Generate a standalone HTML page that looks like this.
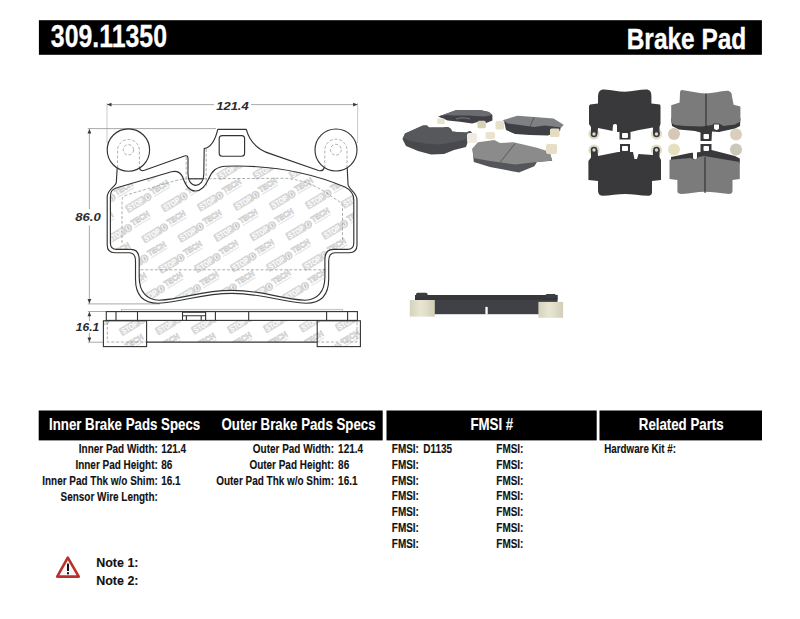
<!DOCTYPE html>
<html><head><meta charset="utf-8"><style>
html,body{margin:0;padding:0;background:#fff;}
body{width:800px;height:619px;overflow:hidden;position:relative;}
svg{position:absolute;left:0;top:0;font-family:"Liberation Sans", sans-serif;}
</style></head><body>
<svg width="800" height="619" viewBox="0 0 800 619">
<rect x="38.9" y="20.2" width="723" height="34.6" fill="#000"/><text transform="translate(50.8,47.1) scale(0.79,1)" text-anchor="start" font-size="31.5" font-weight="bold" font-style="normal" fill="#fff" stroke="#fff" stroke-width="0.3">309.11350</text><text transform="translate(746.3,48.6) scale(0.815,1)" text-anchor="end" font-size="30" font-weight="bold" font-style="normal" fill="#fff" stroke="#fff" stroke-width="0.35">Brake Pad</text><g stroke="#a0a0a0" stroke-width="0.9" fill="none"><line x1="107" y1="103" x2="107" y2="143" stroke="#c4c4c4"/><line x1="357.6" y1="103" x2="357.6" y2="143" stroke="#c4c4c4"/><line x1="107" y1="104.6" x2="214" y2="104.6"/><line x1="251" y1="104.6" x2="357.6" y2="104.6"/><line x1="87.8" y1="128.6" x2="216" y2="128.6"/><line x1="89.4" y1="128.6" x2="89.4" y2="209"/><line x1="89.4" y1="225.5" x2="89.4" y2="303.9"/><line x1="87.8" y1="303.9" x2="160" y2="303.9"/><line x1="87.8" y1="311.5" x2="106" y2="311.5"/><line x1="87.8" y1="342.2" x2="103" y2="342.2"/><line x1="89.4" y1="311.5" x2="89.4" y2="321"/><line x1="89.4" y1="333" x2="89.4" y2="342.2"/></g><polygon points="107,104.6 111.5,102.69999999999999 111.5,106.5" fill="#3a3a3a"/><polygon points="357.6,104.6 353.1,102.69999999999999 353.1,106.5" fill="#3a3a3a"/><polygon points="89.4,129 87.5,133.5 91.30000000000001,133.5" fill="#3a3a3a"/><polygon points="89.4,303.6 87.5,299.1 91.30000000000001,299.1" fill="#3a3a3a"/><polygon points="89.4,311.8 87.5,316.3 91.30000000000001,316.3" fill="#3a3a3a"/><polygon points="89.4,341.9 87.5,337.4 91.30000000000001,337.4" fill="#3a3a3a"/><text x="216.2" y="109.6" font-size="10.7" font-weight="bold" font-style="italic" fill="#2a2a2a" textLength="32.5" lengthAdjust="spacingAndGlyphs">121.4</text><text x="75.2" y="220.7" font-size="10.7" font-weight="bold" font-style="italic" fill="#2a2a2a" textLength="25.5" lengthAdjust="spacingAndGlyphs">86.0</text><text x="75.8" y="330.8" font-size="10.7" font-weight="bold" font-style="italic" fill="#2a2a2a" textLength="23.5" lengthAdjust="spacingAndGlyphs">16.1</text><defs><clipPath id="fr"><path d="M110.4,243 L110.4,197 C110.4,191.5 112,189.6 116,188 L171.5,171.8 C176.5,170.6 180,172 182.5,176.5 C185,184.5 189,191 195.5,191 C202,191 206,185 208.8,178.5 C212,171 216,166.6 226,166.2 Q290,164 345,187 C351,190 353.8,194 353.8,200 L353.8,243 C353.8,247.5 352,249.4 347.5,249.4 L333,249.4 C327,249.4 324.9,253 324.9,260 L324.9,277 C324.9,292 317,300 305,300.2 C279,299 264,290.3 232,290.3 C200,290.3 185,299 159,300.2 C147,300 139.2,292 139.2,277 L139.2,260 C139.2,253 137,249.4 131,249.4 L116.5,249.4 C112,249.4 110.4,247.5 110.4,243 Z"/></clipPath><clipPath id="sv"><path d="M103.4,320 L360.4,320 L360.4,346.4 L317.2,346.4 L317.2,342 L146.6,342 L146.6,346.4 L103.4,346.4 Z"/></clipPath></defs><g clip-path="url(#fr)"><g transform="translate(105.5,320.8) rotate(-31)"><rect x="-24.5" y="-4.2" width="21" height="8.4" rx="1.2" fill="#d8d8d8"/><text x="-14" y="2.9" text-anchor="middle" font-size="8" font-weight="bold" fill="#fff" textLength="17.5" lengthAdjust="spacingAndGlyphs">STOP</text><circle cx="0" cy="0" r="4.2" fill="#d4d4d4"/><ellipse cx="0" cy="0" rx="2" ry="3" fill="#f6f6f6"/><ellipse cx="0.2" cy="0" rx="0.9" ry="2.2" fill="#c4c4c4"/><text x="5.5" y="0.6" font-size="8" font-weight="bold" fill="#fbfbfb" stroke="#cbcbcb" stroke-width="0.7" textLength="20" lengthAdjust="spacingAndGlyphs">TECH</text><rect x="6" y="2.2" width="18.5" height="1.3" fill="#e6e6e6"/></g><g transform="translate(122.0,351.2) rotate(-31)"><rect x="-24.5" y="-4.2" width="21" height="8.4" rx="1.2" fill="#d8d8d8"/><text x="-14" y="2.9" text-anchor="middle" font-size="8" font-weight="bold" fill="#fff" textLength="17.5" lengthAdjust="spacingAndGlyphs">STOP</text><circle cx="0" cy="0" r="4.2" fill="#d4d4d4"/><ellipse cx="0" cy="0" rx="2" ry="3" fill="#f6f6f6"/><ellipse cx="0.2" cy="0" rx="0.9" ry="2.2" fill="#c4c4c4"/><text x="5.5" y="0.6" font-size="8" font-weight="bold" fill="#fbfbfb" stroke="#cbcbcb" stroke-width="0.7" textLength="20" lengthAdjust="spacingAndGlyphs">TECH</text><rect x="6" y="2.2" width="18.5" height="1.3" fill="#e6e6e6"/></g><g transform="translate(92.0,228.9) rotate(-31)"><rect x="-24.5" y="-4.2" width="21" height="8.4" rx="1.2" fill="#d8d8d8"/><text x="-14" y="2.9" text-anchor="middle" font-size="8" font-weight="bold" fill="#fff" textLength="17.5" lengthAdjust="spacingAndGlyphs">STOP</text><circle cx="0" cy="0" r="4.2" fill="#d4d4d4"/><ellipse cx="0" cy="0" rx="2" ry="3" fill="#f6f6f6"/><ellipse cx="0.2" cy="0" rx="0.9" ry="2.2" fill="#c4c4c4"/><text x="5.5" y="0.6" font-size="8" font-weight="bold" fill="#fbfbfb" stroke="#cbcbcb" stroke-width="0.7" textLength="20" lengthAdjust="spacingAndGlyphs">TECH</text><rect x="6" y="2.2" width="18.5" height="1.3" fill="#e6e6e6"/></g><g transform="translate(108.5,259.3) rotate(-31)"><rect x="-24.5" y="-4.2" width="21" height="8.4" rx="1.2" fill="#d8d8d8"/><text x="-14" y="2.9" text-anchor="middle" font-size="8" font-weight="bold" fill="#fff" textLength="17.5" lengthAdjust="spacingAndGlyphs">STOP</text><circle cx="0" cy="0" r="4.2" fill="#d4d4d4"/><ellipse cx="0" cy="0" rx="2" ry="3" fill="#f6f6f6"/><ellipse cx="0.2" cy="0" rx="0.9" ry="2.2" fill="#c4c4c4"/><text x="5.5" y="0.6" font-size="8" font-weight="bold" fill="#fbfbfb" stroke="#cbcbcb" stroke-width="0.7" textLength="20" lengthAdjust="spacingAndGlyphs">TECH</text><rect x="6" y="2.2" width="18.5" height="1.3" fill="#e6e6e6"/></g><g transform="translate(125.0,289.7) rotate(-31)"><rect x="-24.5" y="-4.2" width="21" height="8.4" rx="1.2" fill="#d8d8d8"/><text x="-14" y="2.9" text-anchor="middle" font-size="8" font-weight="bold" fill="#fff" textLength="17.5" lengthAdjust="spacingAndGlyphs">STOP</text><circle cx="0" cy="0" r="4.2" fill="#d4d4d4"/><ellipse cx="0" cy="0" rx="2" ry="3" fill="#f6f6f6"/><ellipse cx="0.2" cy="0" rx="0.9" ry="2.2" fill="#c4c4c4"/><text x="5.5" y="0.6" font-size="8" font-weight="bold" fill="#fbfbfb" stroke="#cbcbcb" stroke-width="0.7" textLength="20" lengthAdjust="spacingAndGlyphs">TECH</text><rect x="6" y="2.2" width="18.5" height="1.3" fill="#e6e6e6"/></g><g transform="translate(141.5,320.1) rotate(-31)"><rect x="-24.5" y="-4.2" width="21" height="8.4" rx="1.2" fill="#d8d8d8"/><text x="-14" y="2.9" text-anchor="middle" font-size="8" font-weight="bold" fill="#fff" textLength="17.5" lengthAdjust="spacingAndGlyphs">STOP</text><circle cx="0" cy="0" r="4.2" fill="#d4d4d4"/><ellipse cx="0" cy="0" rx="2" ry="3" fill="#f6f6f6"/><ellipse cx="0.2" cy="0" rx="0.9" ry="2.2" fill="#c4c4c4"/><text x="5.5" y="0.6" font-size="8" font-weight="bold" fill="#fbfbfb" stroke="#cbcbcb" stroke-width="0.7" textLength="20" lengthAdjust="spacingAndGlyphs">TECH</text><rect x="6" y="2.2" width="18.5" height="1.3" fill="#e6e6e6"/></g><g transform="translate(158.0,350.5) rotate(-31)"><rect x="-24.5" y="-4.2" width="21" height="8.4" rx="1.2" fill="#d8d8d8"/><text x="-14" y="2.9" text-anchor="middle" font-size="8" font-weight="bold" fill="#fff" textLength="17.5" lengthAdjust="spacingAndGlyphs">STOP</text><circle cx="0" cy="0" r="4.2" fill="#d4d4d4"/><ellipse cx="0" cy="0" rx="2" ry="3" fill="#f6f6f6"/><ellipse cx="0.2" cy="0" rx="0.9" ry="2.2" fill="#c4c4c4"/><text x="5.5" y="0.6" font-size="8" font-weight="bold" fill="#fbfbfb" stroke="#cbcbcb" stroke-width="0.7" textLength="20" lengthAdjust="spacingAndGlyphs">TECH</text><rect x="6" y="2.2" width="18.5" height="1.3" fill="#e6e6e6"/></g><g transform="translate(95.0,167.4) rotate(-31)"><rect x="-24.5" y="-4.2" width="21" height="8.4" rx="1.2" fill="#d8d8d8"/><text x="-14" y="2.9" text-anchor="middle" font-size="8" font-weight="bold" fill="#fff" textLength="17.5" lengthAdjust="spacingAndGlyphs">STOP</text><circle cx="0" cy="0" r="4.2" fill="#d4d4d4"/><ellipse cx="0" cy="0" rx="2" ry="3" fill="#f6f6f6"/><ellipse cx="0.2" cy="0" rx="0.9" ry="2.2" fill="#c4c4c4"/><text x="5.5" y="0.6" font-size="8" font-weight="bold" fill="#fbfbfb" stroke="#cbcbcb" stroke-width="0.7" textLength="20" lengthAdjust="spacingAndGlyphs">TECH</text><rect x="6" y="2.2" width="18.5" height="1.3" fill="#e6e6e6"/></g><g transform="translate(111.5,197.8) rotate(-31)"><rect x="-24.5" y="-4.2" width="21" height="8.4" rx="1.2" fill="#d8d8d8"/><text x="-14" y="2.9" text-anchor="middle" font-size="8" font-weight="bold" fill="#fff" textLength="17.5" lengthAdjust="spacingAndGlyphs">STOP</text><circle cx="0" cy="0" r="4.2" fill="#d4d4d4"/><ellipse cx="0" cy="0" rx="2" ry="3" fill="#f6f6f6"/><ellipse cx="0.2" cy="0" rx="0.9" ry="2.2" fill="#c4c4c4"/><text x="5.5" y="0.6" font-size="8" font-weight="bold" fill="#fbfbfb" stroke="#cbcbcb" stroke-width="0.7" textLength="20" lengthAdjust="spacingAndGlyphs">TECH</text><rect x="6" y="2.2" width="18.5" height="1.3" fill="#e6e6e6"/></g><g transform="translate(128.0,228.2) rotate(-31)"><rect x="-24.5" y="-4.2" width="21" height="8.4" rx="1.2" fill="#d8d8d8"/><text x="-14" y="2.9" text-anchor="middle" font-size="8" font-weight="bold" fill="#fff" textLength="17.5" lengthAdjust="spacingAndGlyphs">STOP</text><circle cx="0" cy="0" r="4.2" fill="#d4d4d4"/><ellipse cx="0" cy="0" rx="2" ry="3" fill="#f6f6f6"/><ellipse cx="0.2" cy="0" rx="0.9" ry="2.2" fill="#c4c4c4"/><text x="5.5" y="0.6" font-size="8" font-weight="bold" fill="#fbfbfb" stroke="#cbcbcb" stroke-width="0.7" textLength="20" lengthAdjust="spacingAndGlyphs">TECH</text><rect x="6" y="2.2" width="18.5" height="1.3" fill="#e6e6e6"/></g><g transform="translate(144.5,258.6) rotate(-31)"><rect x="-24.5" y="-4.2" width="21" height="8.4" rx="1.2" fill="#d8d8d8"/><text x="-14" y="2.9" text-anchor="middle" font-size="8" font-weight="bold" fill="#fff" textLength="17.5" lengthAdjust="spacingAndGlyphs">STOP</text><circle cx="0" cy="0" r="4.2" fill="#d4d4d4"/><ellipse cx="0" cy="0" rx="2" ry="3" fill="#f6f6f6"/><ellipse cx="0.2" cy="0" rx="0.9" ry="2.2" fill="#c4c4c4"/><text x="5.5" y="0.6" font-size="8" font-weight="bold" fill="#fbfbfb" stroke="#cbcbcb" stroke-width="0.7" textLength="20" lengthAdjust="spacingAndGlyphs">TECH</text><rect x="6" y="2.2" width="18.5" height="1.3" fill="#e6e6e6"/></g><g transform="translate(161.0,289.0) rotate(-31)"><rect x="-24.5" y="-4.2" width="21" height="8.4" rx="1.2" fill="#d8d8d8"/><text x="-14" y="2.9" text-anchor="middle" font-size="8" font-weight="bold" fill="#fff" textLength="17.5" lengthAdjust="spacingAndGlyphs">STOP</text><circle cx="0" cy="0" r="4.2" fill="#d4d4d4"/><ellipse cx="0" cy="0" rx="2" ry="3" fill="#f6f6f6"/><ellipse cx="0.2" cy="0" rx="0.9" ry="2.2" fill="#c4c4c4"/><text x="5.5" y="0.6" font-size="8" font-weight="bold" fill="#fbfbfb" stroke="#cbcbcb" stroke-width="0.7" textLength="20" lengthAdjust="spacingAndGlyphs">TECH</text><rect x="6" y="2.2" width="18.5" height="1.3" fill="#e6e6e6"/></g><g transform="translate(177.5,319.4) rotate(-31)"><rect x="-24.5" y="-4.2" width="21" height="8.4" rx="1.2" fill="#d8d8d8"/><text x="-14" y="2.9" text-anchor="middle" font-size="8" font-weight="bold" fill="#fff" textLength="17.5" lengthAdjust="spacingAndGlyphs">STOP</text><circle cx="0" cy="0" r="4.2" fill="#d4d4d4"/><ellipse cx="0" cy="0" rx="2" ry="3" fill="#f6f6f6"/><ellipse cx="0.2" cy="0" rx="0.9" ry="2.2" fill="#c4c4c4"/><text x="5.5" y="0.6" font-size="8" font-weight="bold" fill="#fbfbfb" stroke="#cbcbcb" stroke-width="0.7" textLength="20" lengthAdjust="spacingAndGlyphs">TECH</text><rect x="6" y="2.2" width="18.5" height="1.3" fill="#e6e6e6"/></g><g transform="translate(194.0,349.8) rotate(-31)"><rect x="-24.5" y="-4.2" width="21" height="8.4" rx="1.2" fill="#d8d8d8"/><text x="-14" y="2.9" text-anchor="middle" font-size="8" font-weight="bold" fill="#fff" textLength="17.5" lengthAdjust="spacingAndGlyphs">STOP</text><circle cx="0" cy="0" r="4.2" fill="#d4d4d4"/><ellipse cx="0" cy="0" rx="2" ry="3" fill="#f6f6f6"/><ellipse cx="0.2" cy="0" rx="0.9" ry="2.2" fill="#c4c4c4"/><text x="5.5" y="0.6" font-size="8" font-weight="bold" fill="#fbfbfb" stroke="#cbcbcb" stroke-width="0.7" textLength="20" lengthAdjust="spacingAndGlyphs">TECH</text><rect x="6" y="2.2" width="18.5" height="1.3" fill="#e6e6e6"/></g><g transform="translate(131.0,166.7) rotate(-31)"><rect x="-24.5" y="-4.2" width="21" height="8.4" rx="1.2" fill="#d8d8d8"/><text x="-14" y="2.9" text-anchor="middle" font-size="8" font-weight="bold" fill="#fff" textLength="17.5" lengthAdjust="spacingAndGlyphs">STOP</text><circle cx="0" cy="0" r="4.2" fill="#d4d4d4"/><ellipse cx="0" cy="0" rx="2" ry="3" fill="#f6f6f6"/><ellipse cx="0.2" cy="0" rx="0.9" ry="2.2" fill="#c4c4c4"/><text x="5.5" y="0.6" font-size="8" font-weight="bold" fill="#fbfbfb" stroke="#cbcbcb" stroke-width="0.7" textLength="20" lengthAdjust="spacingAndGlyphs">TECH</text><rect x="6" y="2.2" width="18.5" height="1.3" fill="#e6e6e6"/></g><g transform="translate(147.5,197.1) rotate(-31)"><rect x="-24.5" y="-4.2" width="21" height="8.4" rx="1.2" fill="#d8d8d8"/><text x="-14" y="2.9" text-anchor="middle" font-size="8" font-weight="bold" fill="#fff" textLength="17.5" lengthAdjust="spacingAndGlyphs">STOP</text><circle cx="0" cy="0" r="4.2" fill="#d4d4d4"/><ellipse cx="0" cy="0" rx="2" ry="3" fill="#f6f6f6"/><ellipse cx="0.2" cy="0" rx="0.9" ry="2.2" fill="#c4c4c4"/><text x="5.5" y="0.6" font-size="8" font-weight="bold" fill="#fbfbfb" stroke="#cbcbcb" stroke-width="0.7" textLength="20" lengthAdjust="spacingAndGlyphs">TECH</text><rect x="6" y="2.2" width="18.5" height="1.3" fill="#e6e6e6"/></g><g transform="translate(164.0,227.5) rotate(-31)"><rect x="-24.5" y="-4.2" width="21" height="8.4" rx="1.2" fill="#d8d8d8"/><text x="-14" y="2.9" text-anchor="middle" font-size="8" font-weight="bold" fill="#fff" textLength="17.5" lengthAdjust="spacingAndGlyphs">STOP</text><circle cx="0" cy="0" r="4.2" fill="#d4d4d4"/><ellipse cx="0" cy="0" rx="2" ry="3" fill="#f6f6f6"/><ellipse cx="0.2" cy="0" rx="0.9" ry="2.2" fill="#c4c4c4"/><text x="5.5" y="0.6" font-size="8" font-weight="bold" fill="#fbfbfb" stroke="#cbcbcb" stroke-width="0.7" textLength="20" lengthAdjust="spacingAndGlyphs">TECH</text><rect x="6" y="2.2" width="18.5" height="1.3" fill="#e6e6e6"/></g><g transform="translate(180.5,257.9) rotate(-31)"><rect x="-24.5" y="-4.2" width="21" height="8.4" rx="1.2" fill="#d8d8d8"/><text x="-14" y="2.9" text-anchor="middle" font-size="8" font-weight="bold" fill="#fff" textLength="17.5" lengthAdjust="spacingAndGlyphs">STOP</text><circle cx="0" cy="0" r="4.2" fill="#d4d4d4"/><ellipse cx="0" cy="0" rx="2" ry="3" fill="#f6f6f6"/><ellipse cx="0.2" cy="0" rx="0.9" ry="2.2" fill="#c4c4c4"/><text x="5.5" y="0.6" font-size="8" font-weight="bold" fill="#fbfbfb" stroke="#cbcbcb" stroke-width="0.7" textLength="20" lengthAdjust="spacingAndGlyphs">TECH</text><rect x="6" y="2.2" width="18.5" height="1.3" fill="#e6e6e6"/></g><g transform="translate(197.0,288.3) rotate(-31)"><rect x="-24.5" y="-4.2" width="21" height="8.4" rx="1.2" fill="#d8d8d8"/><text x="-14" y="2.9" text-anchor="middle" font-size="8" font-weight="bold" fill="#fff" textLength="17.5" lengthAdjust="spacingAndGlyphs">STOP</text><circle cx="0" cy="0" r="4.2" fill="#d4d4d4"/><ellipse cx="0" cy="0" rx="2" ry="3" fill="#f6f6f6"/><ellipse cx="0.2" cy="0" rx="0.9" ry="2.2" fill="#c4c4c4"/><text x="5.5" y="0.6" font-size="8" font-weight="bold" fill="#fbfbfb" stroke="#cbcbcb" stroke-width="0.7" textLength="20" lengthAdjust="spacingAndGlyphs">TECH</text><rect x="6" y="2.2" width="18.5" height="1.3" fill="#e6e6e6"/></g><g transform="translate(213.5,318.7) rotate(-31)"><rect x="-24.5" y="-4.2" width="21" height="8.4" rx="1.2" fill="#d8d8d8"/><text x="-14" y="2.9" text-anchor="middle" font-size="8" font-weight="bold" fill="#fff" textLength="17.5" lengthAdjust="spacingAndGlyphs">STOP</text><circle cx="0" cy="0" r="4.2" fill="#d4d4d4"/><ellipse cx="0" cy="0" rx="2" ry="3" fill="#f6f6f6"/><ellipse cx="0.2" cy="0" rx="0.9" ry="2.2" fill="#c4c4c4"/><text x="5.5" y="0.6" font-size="8" font-weight="bold" fill="#fbfbfb" stroke="#cbcbcb" stroke-width="0.7" textLength="20" lengthAdjust="spacingAndGlyphs">TECH</text><rect x="6" y="2.2" width="18.5" height="1.3" fill="#e6e6e6"/></g><g transform="translate(230.0,349.1) rotate(-31)"><rect x="-24.5" y="-4.2" width="21" height="8.4" rx="1.2" fill="#d8d8d8"/><text x="-14" y="2.9" text-anchor="middle" font-size="8" font-weight="bold" fill="#fff" textLength="17.5" lengthAdjust="spacingAndGlyphs">STOP</text><circle cx="0" cy="0" r="4.2" fill="#d4d4d4"/><ellipse cx="0" cy="0" rx="2" ry="3" fill="#f6f6f6"/><ellipse cx="0.2" cy="0" rx="0.9" ry="2.2" fill="#c4c4c4"/><text x="5.5" y="0.6" font-size="8" font-weight="bold" fill="#fbfbfb" stroke="#cbcbcb" stroke-width="0.7" textLength="20" lengthAdjust="spacingAndGlyphs">TECH</text><rect x="6" y="2.2" width="18.5" height="1.3" fill="#e6e6e6"/></g><g transform="translate(167.0,166.0) rotate(-31)"><rect x="-24.5" y="-4.2" width="21" height="8.4" rx="1.2" fill="#d8d8d8"/><text x="-14" y="2.9" text-anchor="middle" font-size="8" font-weight="bold" fill="#fff" textLength="17.5" lengthAdjust="spacingAndGlyphs">STOP</text><circle cx="0" cy="0" r="4.2" fill="#d4d4d4"/><ellipse cx="0" cy="0" rx="2" ry="3" fill="#f6f6f6"/><ellipse cx="0.2" cy="0" rx="0.9" ry="2.2" fill="#c4c4c4"/><text x="5.5" y="0.6" font-size="8" font-weight="bold" fill="#fbfbfb" stroke="#cbcbcb" stroke-width="0.7" textLength="20" lengthAdjust="spacingAndGlyphs">TECH</text><rect x="6" y="2.2" width="18.5" height="1.3" fill="#e6e6e6"/></g><g transform="translate(183.5,196.4) rotate(-31)"><rect x="-24.5" y="-4.2" width="21" height="8.4" rx="1.2" fill="#d8d8d8"/><text x="-14" y="2.9" text-anchor="middle" font-size="8" font-weight="bold" fill="#fff" textLength="17.5" lengthAdjust="spacingAndGlyphs">STOP</text><circle cx="0" cy="0" r="4.2" fill="#d4d4d4"/><ellipse cx="0" cy="0" rx="2" ry="3" fill="#f6f6f6"/><ellipse cx="0.2" cy="0" rx="0.9" ry="2.2" fill="#c4c4c4"/><text x="5.5" y="0.6" font-size="8" font-weight="bold" fill="#fbfbfb" stroke="#cbcbcb" stroke-width="0.7" textLength="20" lengthAdjust="spacingAndGlyphs">TECH</text><rect x="6" y="2.2" width="18.5" height="1.3" fill="#e6e6e6"/></g><g transform="translate(200.0,226.8) rotate(-31)"><rect x="-24.5" y="-4.2" width="21" height="8.4" rx="1.2" fill="#d8d8d8"/><text x="-14" y="2.9" text-anchor="middle" font-size="8" font-weight="bold" fill="#fff" textLength="17.5" lengthAdjust="spacingAndGlyphs">STOP</text><circle cx="0" cy="0" r="4.2" fill="#d4d4d4"/><ellipse cx="0" cy="0" rx="2" ry="3" fill="#f6f6f6"/><ellipse cx="0.2" cy="0" rx="0.9" ry="2.2" fill="#c4c4c4"/><text x="5.5" y="0.6" font-size="8" font-weight="bold" fill="#fbfbfb" stroke="#cbcbcb" stroke-width="0.7" textLength="20" lengthAdjust="spacingAndGlyphs">TECH</text><rect x="6" y="2.2" width="18.5" height="1.3" fill="#e6e6e6"/></g><g transform="translate(216.5,257.2) rotate(-31)"><rect x="-24.5" y="-4.2" width="21" height="8.4" rx="1.2" fill="#d8d8d8"/><text x="-14" y="2.9" text-anchor="middle" font-size="8" font-weight="bold" fill="#fff" textLength="17.5" lengthAdjust="spacingAndGlyphs">STOP</text><circle cx="0" cy="0" r="4.2" fill="#d4d4d4"/><ellipse cx="0" cy="0" rx="2" ry="3" fill="#f6f6f6"/><ellipse cx="0.2" cy="0" rx="0.9" ry="2.2" fill="#c4c4c4"/><text x="5.5" y="0.6" font-size="8" font-weight="bold" fill="#fbfbfb" stroke="#cbcbcb" stroke-width="0.7" textLength="20" lengthAdjust="spacingAndGlyphs">TECH</text><rect x="6" y="2.2" width="18.5" height="1.3" fill="#e6e6e6"/></g><g transform="translate(233.0,287.6) rotate(-31)"><rect x="-24.5" y="-4.2" width="21" height="8.4" rx="1.2" fill="#d8d8d8"/><text x="-14" y="2.9" text-anchor="middle" font-size="8" font-weight="bold" fill="#fff" textLength="17.5" lengthAdjust="spacingAndGlyphs">STOP</text><circle cx="0" cy="0" r="4.2" fill="#d4d4d4"/><ellipse cx="0" cy="0" rx="2" ry="3" fill="#f6f6f6"/><ellipse cx="0.2" cy="0" rx="0.9" ry="2.2" fill="#c4c4c4"/><text x="5.5" y="0.6" font-size="8" font-weight="bold" fill="#fbfbfb" stroke="#cbcbcb" stroke-width="0.7" textLength="20" lengthAdjust="spacingAndGlyphs">TECH</text><rect x="6" y="2.2" width="18.5" height="1.3" fill="#e6e6e6"/></g><g transform="translate(249.5,318.0) rotate(-31)"><rect x="-24.5" y="-4.2" width="21" height="8.4" rx="1.2" fill="#d8d8d8"/><text x="-14" y="2.9" text-anchor="middle" font-size="8" font-weight="bold" fill="#fff" textLength="17.5" lengthAdjust="spacingAndGlyphs">STOP</text><circle cx="0" cy="0" r="4.2" fill="#d4d4d4"/><ellipse cx="0" cy="0" rx="2" ry="3" fill="#f6f6f6"/><ellipse cx="0.2" cy="0" rx="0.9" ry="2.2" fill="#c4c4c4"/><text x="5.5" y="0.6" font-size="8" font-weight="bold" fill="#fbfbfb" stroke="#cbcbcb" stroke-width="0.7" textLength="20" lengthAdjust="spacingAndGlyphs">TECH</text><rect x="6" y="2.2" width="18.5" height="1.3" fill="#e6e6e6"/></g><g transform="translate(266.0,348.4) rotate(-31)"><rect x="-24.5" y="-4.2" width="21" height="8.4" rx="1.2" fill="#d8d8d8"/><text x="-14" y="2.9" text-anchor="middle" font-size="8" font-weight="bold" fill="#fff" textLength="17.5" lengthAdjust="spacingAndGlyphs">STOP</text><circle cx="0" cy="0" r="4.2" fill="#d4d4d4"/><ellipse cx="0" cy="0" rx="2" ry="3" fill="#f6f6f6"/><ellipse cx="0.2" cy="0" rx="0.9" ry="2.2" fill="#c4c4c4"/><text x="5.5" y="0.6" font-size="8" font-weight="bold" fill="#fbfbfb" stroke="#cbcbcb" stroke-width="0.7" textLength="20" lengthAdjust="spacingAndGlyphs">TECH</text><rect x="6" y="2.2" width="18.5" height="1.3" fill="#e6e6e6"/></g><g transform="translate(203.0,165.3) rotate(-31)"><rect x="-24.5" y="-4.2" width="21" height="8.4" rx="1.2" fill="#d8d8d8"/><text x="-14" y="2.9" text-anchor="middle" font-size="8" font-weight="bold" fill="#fff" textLength="17.5" lengthAdjust="spacingAndGlyphs">STOP</text><circle cx="0" cy="0" r="4.2" fill="#d4d4d4"/><ellipse cx="0" cy="0" rx="2" ry="3" fill="#f6f6f6"/><ellipse cx="0.2" cy="0" rx="0.9" ry="2.2" fill="#c4c4c4"/><text x="5.5" y="0.6" font-size="8" font-weight="bold" fill="#fbfbfb" stroke="#cbcbcb" stroke-width="0.7" textLength="20" lengthAdjust="spacingAndGlyphs">TECH</text><rect x="6" y="2.2" width="18.5" height="1.3" fill="#e6e6e6"/></g><g transform="translate(219.5,195.7) rotate(-31)"><rect x="-24.5" y="-4.2" width="21" height="8.4" rx="1.2" fill="#d8d8d8"/><text x="-14" y="2.9" text-anchor="middle" font-size="8" font-weight="bold" fill="#fff" textLength="17.5" lengthAdjust="spacingAndGlyphs">STOP</text><circle cx="0" cy="0" r="4.2" fill="#d4d4d4"/><ellipse cx="0" cy="0" rx="2" ry="3" fill="#f6f6f6"/><ellipse cx="0.2" cy="0" rx="0.9" ry="2.2" fill="#c4c4c4"/><text x="5.5" y="0.6" font-size="8" font-weight="bold" fill="#fbfbfb" stroke="#cbcbcb" stroke-width="0.7" textLength="20" lengthAdjust="spacingAndGlyphs">TECH</text><rect x="6" y="2.2" width="18.5" height="1.3" fill="#e6e6e6"/></g><g transform="translate(236.0,226.1) rotate(-31)"><rect x="-24.5" y="-4.2" width="21" height="8.4" rx="1.2" fill="#d8d8d8"/><text x="-14" y="2.9" text-anchor="middle" font-size="8" font-weight="bold" fill="#fff" textLength="17.5" lengthAdjust="spacingAndGlyphs">STOP</text><circle cx="0" cy="0" r="4.2" fill="#d4d4d4"/><ellipse cx="0" cy="0" rx="2" ry="3" fill="#f6f6f6"/><ellipse cx="0.2" cy="0" rx="0.9" ry="2.2" fill="#c4c4c4"/><text x="5.5" y="0.6" font-size="8" font-weight="bold" fill="#fbfbfb" stroke="#cbcbcb" stroke-width="0.7" textLength="20" lengthAdjust="spacingAndGlyphs">TECH</text><rect x="6" y="2.2" width="18.5" height="1.3" fill="#e6e6e6"/></g><g transform="translate(252.5,256.5) rotate(-31)"><rect x="-24.5" y="-4.2" width="21" height="8.4" rx="1.2" fill="#d8d8d8"/><text x="-14" y="2.9" text-anchor="middle" font-size="8" font-weight="bold" fill="#fff" textLength="17.5" lengthAdjust="spacingAndGlyphs">STOP</text><circle cx="0" cy="0" r="4.2" fill="#d4d4d4"/><ellipse cx="0" cy="0" rx="2" ry="3" fill="#f6f6f6"/><ellipse cx="0.2" cy="0" rx="0.9" ry="2.2" fill="#c4c4c4"/><text x="5.5" y="0.6" font-size="8" font-weight="bold" fill="#fbfbfb" stroke="#cbcbcb" stroke-width="0.7" textLength="20" lengthAdjust="spacingAndGlyphs">TECH</text><rect x="6" y="2.2" width="18.5" height="1.3" fill="#e6e6e6"/></g><g transform="translate(269.0,286.9) rotate(-31)"><rect x="-24.5" y="-4.2" width="21" height="8.4" rx="1.2" fill="#d8d8d8"/><text x="-14" y="2.9" text-anchor="middle" font-size="8" font-weight="bold" fill="#fff" textLength="17.5" lengthAdjust="spacingAndGlyphs">STOP</text><circle cx="0" cy="0" r="4.2" fill="#d4d4d4"/><ellipse cx="0" cy="0" rx="2" ry="3" fill="#f6f6f6"/><ellipse cx="0.2" cy="0" rx="0.9" ry="2.2" fill="#c4c4c4"/><text x="5.5" y="0.6" font-size="8" font-weight="bold" fill="#fbfbfb" stroke="#cbcbcb" stroke-width="0.7" textLength="20" lengthAdjust="spacingAndGlyphs">TECH</text><rect x="6" y="2.2" width="18.5" height="1.3" fill="#e6e6e6"/></g><g transform="translate(285.5,317.3) rotate(-31)"><rect x="-24.5" y="-4.2" width="21" height="8.4" rx="1.2" fill="#d8d8d8"/><text x="-14" y="2.9" text-anchor="middle" font-size="8" font-weight="bold" fill="#fff" textLength="17.5" lengthAdjust="spacingAndGlyphs">STOP</text><circle cx="0" cy="0" r="4.2" fill="#d4d4d4"/><ellipse cx="0" cy="0" rx="2" ry="3" fill="#f6f6f6"/><ellipse cx="0.2" cy="0" rx="0.9" ry="2.2" fill="#c4c4c4"/><text x="5.5" y="0.6" font-size="8" font-weight="bold" fill="#fbfbfb" stroke="#cbcbcb" stroke-width="0.7" textLength="20" lengthAdjust="spacingAndGlyphs">TECH</text><rect x="6" y="2.2" width="18.5" height="1.3" fill="#e6e6e6"/></g><g transform="translate(302.0,347.7) rotate(-31)"><rect x="-24.5" y="-4.2" width="21" height="8.4" rx="1.2" fill="#d8d8d8"/><text x="-14" y="2.9" text-anchor="middle" font-size="8" font-weight="bold" fill="#fff" textLength="17.5" lengthAdjust="spacingAndGlyphs">STOP</text><circle cx="0" cy="0" r="4.2" fill="#d4d4d4"/><ellipse cx="0" cy="0" rx="2" ry="3" fill="#f6f6f6"/><ellipse cx="0.2" cy="0" rx="0.9" ry="2.2" fill="#c4c4c4"/><text x="5.5" y="0.6" font-size="8" font-weight="bold" fill="#fbfbfb" stroke="#cbcbcb" stroke-width="0.7" textLength="20" lengthAdjust="spacingAndGlyphs">TECH</text><rect x="6" y="2.2" width="18.5" height="1.3" fill="#e6e6e6"/></g><g transform="translate(239.0,164.6) rotate(-31)"><rect x="-24.5" y="-4.2" width="21" height="8.4" rx="1.2" fill="#d8d8d8"/><text x="-14" y="2.9" text-anchor="middle" font-size="8" font-weight="bold" fill="#fff" textLength="17.5" lengthAdjust="spacingAndGlyphs">STOP</text><circle cx="0" cy="0" r="4.2" fill="#d4d4d4"/><ellipse cx="0" cy="0" rx="2" ry="3" fill="#f6f6f6"/><ellipse cx="0.2" cy="0" rx="0.9" ry="2.2" fill="#c4c4c4"/><text x="5.5" y="0.6" font-size="8" font-weight="bold" fill="#fbfbfb" stroke="#cbcbcb" stroke-width="0.7" textLength="20" lengthAdjust="spacingAndGlyphs">TECH</text><rect x="6" y="2.2" width="18.5" height="1.3" fill="#e6e6e6"/></g><g transform="translate(255.5,195.0) rotate(-31)"><rect x="-24.5" y="-4.2" width="21" height="8.4" rx="1.2" fill="#d8d8d8"/><text x="-14" y="2.9" text-anchor="middle" font-size="8" font-weight="bold" fill="#fff" textLength="17.5" lengthAdjust="spacingAndGlyphs">STOP</text><circle cx="0" cy="0" r="4.2" fill="#d4d4d4"/><ellipse cx="0" cy="0" rx="2" ry="3" fill="#f6f6f6"/><ellipse cx="0.2" cy="0" rx="0.9" ry="2.2" fill="#c4c4c4"/><text x="5.5" y="0.6" font-size="8" font-weight="bold" fill="#fbfbfb" stroke="#cbcbcb" stroke-width="0.7" textLength="20" lengthAdjust="spacingAndGlyphs">TECH</text><rect x="6" y="2.2" width="18.5" height="1.3" fill="#e6e6e6"/></g><g transform="translate(272.0,225.4) rotate(-31)"><rect x="-24.5" y="-4.2" width="21" height="8.4" rx="1.2" fill="#d8d8d8"/><text x="-14" y="2.9" text-anchor="middle" font-size="8" font-weight="bold" fill="#fff" textLength="17.5" lengthAdjust="spacingAndGlyphs">STOP</text><circle cx="0" cy="0" r="4.2" fill="#d4d4d4"/><ellipse cx="0" cy="0" rx="2" ry="3" fill="#f6f6f6"/><ellipse cx="0.2" cy="0" rx="0.9" ry="2.2" fill="#c4c4c4"/><text x="5.5" y="0.6" font-size="8" font-weight="bold" fill="#fbfbfb" stroke="#cbcbcb" stroke-width="0.7" textLength="20" lengthAdjust="spacingAndGlyphs">TECH</text><rect x="6" y="2.2" width="18.5" height="1.3" fill="#e6e6e6"/></g><g transform="translate(288.5,255.8) rotate(-31)"><rect x="-24.5" y="-4.2" width="21" height="8.4" rx="1.2" fill="#d8d8d8"/><text x="-14" y="2.9" text-anchor="middle" font-size="8" font-weight="bold" fill="#fff" textLength="17.5" lengthAdjust="spacingAndGlyphs">STOP</text><circle cx="0" cy="0" r="4.2" fill="#d4d4d4"/><ellipse cx="0" cy="0" rx="2" ry="3" fill="#f6f6f6"/><ellipse cx="0.2" cy="0" rx="0.9" ry="2.2" fill="#c4c4c4"/><text x="5.5" y="0.6" font-size="8" font-weight="bold" fill="#fbfbfb" stroke="#cbcbcb" stroke-width="0.7" textLength="20" lengthAdjust="spacingAndGlyphs">TECH</text><rect x="6" y="2.2" width="18.5" height="1.3" fill="#e6e6e6"/></g><g transform="translate(305.0,286.2) rotate(-31)"><rect x="-24.5" y="-4.2" width="21" height="8.4" rx="1.2" fill="#d8d8d8"/><text x="-14" y="2.9" text-anchor="middle" font-size="8" font-weight="bold" fill="#fff" textLength="17.5" lengthAdjust="spacingAndGlyphs">STOP</text><circle cx="0" cy="0" r="4.2" fill="#d4d4d4"/><ellipse cx="0" cy="0" rx="2" ry="3" fill="#f6f6f6"/><ellipse cx="0.2" cy="0" rx="0.9" ry="2.2" fill="#c4c4c4"/><text x="5.5" y="0.6" font-size="8" font-weight="bold" fill="#fbfbfb" stroke="#cbcbcb" stroke-width="0.7" textLength="20" lengthAdjust="spacingAndGlyphs">TECH</text><rect x="6" y="2.2" width="18.5" height="1.3" fill="#e6e6e6"/></g><g transform="translate(321.5,316.6) rotate(-31)"><rect x="-24.5" y="-4.2" width="21" height="8.4" rx="1.2" fill="#d8d8d8"/><text x="-14" y="2.9" text-anchor="middle" font-size="8" font-weight="bold" fill="#fff" textLength="17.5" lengthAdjust="spacingAndGlyphs">STOP</text><circle cx="0" cy="0" r="4.2" fill="#d4d4d4"/><ellipse cx="0" cy="0" rx="2" ry="3" fill="#f6f6f6"/><ellipse cx="0.2" cy="0" rx="0.9" ry="2.2" fill="#c4c4c4"/><text x="5.5" y="0.6" font-size="8" font-weight="bold" fill="#fbfbfb" stroke="#cbcbcb" stroke-width="0.7" textLength="20" lengthAdjust="spacingAndGlyphs">TECH</text><rect x="6" y="2.2" width="18.5" height="1.3" fill="#e6e6e6"/></g><g transform="translate(338.0,347.0) rotate(-31)"><rect x="-24.5" y="-4.2" width="21" height="8.4" rx="1.2" fill="#d8d8d8"/><text x="-14" y="2.9" text-anchor="middle" font-size="8" font-weight="bold" fill="#fff" textLength="17.5" lengthAdjust="spacingAndGlyphs">STOP</text><circle cx="0" cy="0" r="4.2" fill="#d4d4d4"/><ellipse cx="0" cy="0" rx="2" ry="3" fill="#f6f6f6"/><ellipse cx="0.2" cy="0" rx="0.9" ry="2.2" fill="#c4c4c4"/><text x="5.5" y="0.6" font-size="8" font-weight="bold" fill="#fbfbfb" stroke="#cbcbcb" stroke-width="0.7" textLength="20" lengthAdjust="spacingAndGlyphs">TECH</text><rect x="6" y="2.2" width="18.5" height="1.3" fill="#e6e6e6"/></g><g transform="translate(275.0,163.9) rotate(-31)"><rect x="-24.5" y="-4.2" width="21" height="8.4" rx="1.2" fill="#d8d8d8"/><text x="-14" y="2.9" text-anchor="middle" font-size="8" font-weight="bold" fill="#fff" textLength="17.5" lengthAdjust="spacingAndGlyphs">STOP</text><circle cx="0" cy="0" r="4.2" fill="#d4d4d4"/><ellipse cx="0" cy="0" rx="2" ry="3" fill="#f6f6f6"/><ellipse cx="0.2" cy="0" rx="0.9" ry="2.2" fill="#c4c4c4"/><text x="5.5" y="0.6" font-size="8" font-weight="bold" fill="#fbfbfb" stroke="#cbcbcb" stroke-width="0.7" textLength="20" lengthAdjust="spacingAndGlyphs">TECH</text><rect x="6" y="2.2" width="18.5" height="1.3" fill="#e6e6e6"/></g><g transform="translate(291.5,194.3) rotate(-31)"><rect x="-24.5" y="-4.2" width="21" height="8.4" rx="1.2" fill="#d8d8d8"/><text x="-14" y="2.9" text-anchor="middle" font-size="8" font-weight="bold" fill="#fff" textLength="17.5" lengthAdjust="spacingAndGlyphs">STOP</text><circle cx="0" cy="0" r="4.2" fill="#d4d4d4"/><ellipse cx="0" cy="0" rx="2" ry="3" fill="#f6f6f6"/><ellipse cx="0.2" cy="0" rx="0.9" ry="2.2" fill="#c4c4c4"/><text x="5.5" y="0.6" font-size="8" font-weight="bold" fill="#fbfbfb" stroke="#cbcbcb" stroke-width="0.7" textLength="20" lengthAdjust="spacingAndGlyphs">TECH</text><rect x="6" y="2.2" width="18.5" height="1.3" fill="#e6e6e6"/></g><g transform="translate(308.0,224.7) rotate(-31)"><rect x="-24.5" y="-4.2" width="21" height="8.4" rx="1.2" fill="#d8d8d8"/><text x="-14" y="2.9" text-anchor="middle" font-size="8" font-weight="bold" fill="#fff" textLength="17.5" lengthAdjust="spacingAndGlyphs">STOP</text><circle cx="0" cy="0" r="4.2" fill="#d4d4d4"/><ellipse cx="0" cy="0" rx="2" ry="3" fill="#f6f6f6"/><ellipse cx="0.2" cy="0" rx="0.9" ry="2.2" fill="#c4c4c4"/><text x="5.5" y="0.6" font-size="8" font-weight="bold" fill="#fbfbfb" stroke="#cbcbcb" stroke-width="0.7" textLength="20" lengthAdjust="spacingAndGlyphs">TECH</text><rect x="6" y="2.2" width="18.5" height="1.3" fill="#e6e6e6"/></g><g transform="translate(324.5,255.1) rotate(-31)"><rect x="-24.5" y="-4.2" width="21" height="8.4" rx="1.2" fill="#d8d8d8"/><text x="-14" y="2.9" text-anchor="middle" font-size="8" font-weight="bold" fill="#fff" textLength="17.5" lengthAdjust="spacingAndGlyphs">STOP</text><circle cx="0" cy="0" r="4.2" fill="#d4d4d4"/><ellipse cx="0" cy="0" rx="2" ry="3" fill="#f6f6f6"/><ellipse cx="0.2" cy="0" rx="0.9" ry="2.2" fill="#c4c4c4"/><text x="5.5" y="0.6" font-size="8" font-weight="bold" fill="#fbfbfb" stroke="#cbcbcb" stroke-width="0.7" textLength="20" lengthAdjust="spacingAndGlyphs">TECH</text><rect x="6" y="2.2" width="18.5" height="1.3" fill="#e6e6e6"/></g><g transform="translate(341.0,285.5) rotate(-31)"><rect x="-24.5" y="-4.2" width="21" height="8.4" rx="1.2" fill="#d8d8d8"/><text x="-14" y="2.9" text-anchor="middle" font-size="8" font-weight="bold" fill="#fff" textLength="17.5" lengthAdjust="spacingAndGlyphs">STOP</text><circle cx="0" cy="0" r="4.2" fill="#d4d4d4"/><ellipse cx="0" cy="0" rx="2" ry="3" fill="#f6f6f6"/><ellipse cx="0.2" cy="0" rx="0.9" ry="2.2" fill="#c4c4c4"/><text x="5.5" y="0.6" font-size="8" font-weight="bold" fill="#fbfbfb" stroke="#cbcbcb" stroke-width="0.7" textLength="20" lengthAdjust="spacingAndGlyphs">TECH</text><rect x="6" y="2.2" width="18.5" height="1.3" fill="#e6e6e6"/></g><g transform="translate(357.5,315.9) rotate(-31)"><rect x="-24.5" y="-4.2" width="21" height="8.4" rx="1.2" fill="#d8d8d8"/><text x="-14" y="2.9" text-anchor="middle" font-size="8" font-weight="bold" fill="#fff" textLength="17.5" lengthAdjust="spacingAndGlyphs">STOP</text><circle cx="0" cy="0" r="4.2" fill="#d4d4d4"/><ellipse cx="0" cy="0" rx="2" ry="3" fill="#f6f6f6"/><ellipse cx="0.2" cy="0" rx="0.9" ry="2.2" fill="#c4c4c4"/><text x="5.5" y="0.6" font-size="8" font-weight="bold" fill="#fbfbfb" stroke="#cbcbcb" stroke-width="0.7" textLength="20" lengthAdjust="spacingAndGlyphs">TECH</text><rect x="6" y="2.2" width="18.5" height="1.3" fill="#e6e6e6"/></g><g transform="translate(374.0,346.3) rotate(-31)"><rect x="-24.5" y="-4.2" width="21" height="8.4" rx="1.2" fill="#d8d8d8"/><text x="-14" y="2.9" text-anchor="middle" font-size="8" font-weight="bold" fill="#fff" textLength="17.5" lengthAdjust="spacingAndGlyphs">STOP</text><circle cx="0" cy="0" r="4.2" fill="#d4d4d4"/><ellipse cx="0" cy="0" rx="2" ry="3" fill="#f6f6f6"/><ellipse cx="0.2" cy="0" rx="0.9" ry="2.2" fill="#c4c4c4"/><text x="5.5" y="0.6" font-size="8" font-weight="bold" fill="#fbfbfb" stroke="#cbcbcb" stroke-width="0.7" textLength="20" lengthAdjust="spacingAndGlyphs">TECH</text><rect x="6" y="2.2" width="18.5" height="1.3" fill="#e6e6e6"/></g><g transform="translate(311.0,163.2) rotate(-31)"><rect x="-24.5" y="-4.2" width="21" height="8.4" rx="1.2" fill="#d8d8d8"/><text x="-14" y="2.9" text-anchor="middle" font-size="8" font-weight="bold" fill="#fff" textLength="17.5" lengthAdjust="spacingAndGlyphs">STOP</text><circle cx="0" cy="0" r="4.2" fill="#d4d4d4"/><ellipse cx="0" cy="0" rx="2" ry="3" fill="#f6f6f6"/><ellipse cx="0.2" cy="0" rx="0.9" ry="2.2" fill="#c4c4c4"/><text x="5.5" y="0.6" font-size="8" font-weight="bold" fill="#fbfbfb" stroke="#cbcbcb" stroke-width="0.7" textLength="20" lengthAdjust="spacingAndGlyphs">TECH</text><rect x="6" y="2.2" width="18.5" height="1.3" fill="#e6e6e6"/></g><g transform="translate(327.5,193.6) rotate(-31)"><rect x="-24.5" y="-4.2" width="21" height="8.4" rx="1.2" fill="#d8d8d8"/><text x="-14" y="2.9" text-anchor="middle" font-size="8" font-weight="bold" fill="#fff" textLength="17.5" lengthAdjust="spacingAndGlyphs">STOP</text><circle cx="0" cy="0" r="4.2" fill="#d4d4d4"/><ellipse cx="0" cy="0" rx="2" ry="3" fill="#f6f6f6"/><ellipse cx="0.2" cy="0" rx="0.9" ry="2.2" fill="#c4c4c4"/><text x="5.5" y="0.6" font-size="8" font-weight="bold" fill="#fbfbfb" stroke="#cbcbcb" stroke-width="0.7" textLength="20" lengthAdjust="spacingAndGlyphs">TECH</text><rect x="6" y="2.2" width="18.5" height="1.3" fill="#e6e6e6"/></g><g transform="translate(344.0,224.0) rotate(-31)"><rect x="-24.5" y="-4.2" width="21" height="8.4" rx="1.2" fill="#d8d8d8"/><text x="-14" y="2.9" text-anchor="middle" font-size="8" font-weight="bold" fill="#fff" textLength="17.5" lengthAdjust="spacingAndGlyphs">STOP</text><circle cx="0" cy="0" r="4.2" fill="#d4d4d4"/><ellipse cx="0" cy="0" rx="2" ry="3" fill="#f6f6f6"/><ellipse cx="0.2" cy="0" rx="0.9" ry="2.2" fill="#c4c4c4"/><text x="5.5" y="0.6" font-size="8" font-weight="bold" fill="#fbfbfb" stroke="#cbcbcb" stroke-width="0.7" textLength="20" lengthAdjust="spacingAndGlyphs">TECH</text><rect x="6" y="2.2" width="18.5" height="1.3" fill="#e6e6e6"/></g><g transform="translate(360.5,254.4) rotate(-31)"><rect x="-24.5" y="-4.2" width="21" height="8.4" rx="1.2" fill="#d8d8d8"/><text x="-14" y="2.9" text-anchor="middle" font-size="8" font-weight="bold" fill="#fff" textLength="17.5" lengthAdjust="spacingAndGlyphs">STOP</text><circle cx="0" cy="0" r="4.2" fill="#d4d4d4"/><ellipse cx="0" cy="0" rx="2" ry="3" fill="#f6f6f6"/><ellipse cx="0.2" cy="0" rx="0.9" ry="2.2" fill="#c4c4c4"/><text x="5.5" y="0.6" font-size="8" font-weight="bold" fill="#fbfbfb" stroke="#cbcbcb" stroke-width="0.7" textLength="20" lengthAdjust="spacingAndGlyphs">TECH</text><rect x="6" y="2.2" width="18.5" height="1.3" fill="#e6e6e6"/></g><g transform="translate(377.0,284.8) rotate(-31)"><rect x="-24.5" y="-4.2" width="21" height="8.4" rx="1.2" fill="#d8d8d8"/><text x="-14" y="2.9" text-anchor="middle" font-size="8" font-weight="bold" fill="#fff" textLength="17.5" lengthAdjust="spacingAndGlyphs">STOP</text><circle cx="0" cy="0" r="4.2" fill="#d4d4d4"/><ellipse cx="0" cy="0" rx="2" ry="3" fill="#f6f6f6"/><ellipse cx="0.2" cy="0" rx="0.9" ry="2.2" fill="#c4c4c4"/><text x="5.5" y="0.6" font-size="8" font-weight="bold" fill="#fbfbfb" stroke="#cbcbcb" stroke-width="0.7" textLength="20" lengthAdjust="spacingAndGlyphs">TECH</text><rect x="6" y="2.2" width="18.5" height="1.3" fill="#e6e6e6"/></g><g transform="translate(347.0,162.5) rotate(-31)"><rect x="-24.5" y="-4.2" width="21" height="8.4" rx="1.2" fill="#d8d8d8"/><text x="-14" y="2.9" text-anchor="middle" font-size="8" font-weight="bold" fill="#fff" textLength="17.5" lengthAdjust="spacingAndGlyphs">STOP</text><circle cx="0" cy="0" r="4.2" fill="#d4d4d4"/><ellipse cx="0" cy="0" rx="2" ry="3" fill="#f6f6f6"/><ellipse cx="0.2" cy="0" rx="0.9" ry="2.2" fill="#c4c4c4"/><text x="5.5" y="0.6" font-size="8" font-weight="bold" fill="#fbfbfb" stroke="#cbcbcb" stroke-width="0.7" textLength="20" lengthAdjust="spacingAndGlyphs">TECH</text><rect x="6" y="2.2" width="18.5" height="1.3" fill="#e6e6e6"/></g><g transform="translate(363.5,192.9) rotate(-31)"><rect x="-24.5" y="-4.2" width="21" height="8.4" rx="1.2" fill="#d8d8d8"/><text x="-14" y="2.9" text-anchor="middle" font-size="8" font-weight="bold" fill="#fff" textLength="17.5" lengthAdjust="spacingAndGlyphs">STOP</text><circle cx="0" cy="0" r="4.2" fill="#d4d4d4"/><ellipse cx="0" cy="0" rx="2" ry="3" fill="#f6f6f6"/><ellipse cx="0.2" cy="0" rx="0.9" ry="2.2" fill="#c4c4c4"/><text x="5.5" y="0.6" font-size="8" font-weight="bold" fill="#fbfbfb" stroke="#cbcbcb" stroke-width="0.7" textLength="20" lengthAdjust="spacingAndGlyphs">TECH</text><rect x="6" y="2.2" width="18.5" height="1.3" fill="#e6e6e6"/></g></g><g clip-path="url(#sv)"><g transform="translate(105.5,320.8) rotate(-31)"><rect x="-24.5" y="-4.2" width="21" height="8.4" rx="1.2" fill="#d8d8d8"/><text x="-14" y="2.9" text-anchor="middle" font-size="8" font-weight="bold" fill="#fff" textLength="17.5" lengthAdjust="spacingAndGlyphs">STOP</text><circle cx="0" cy="0" r="4.2" fill="#d4d4d4"/><ellipse cx="0" cy="0" rx="2" ry="3" fill="#f6f6f6"/><ellipse cx="0.2" cy="0" rx="0.9" ry="2.2" fill="#c4c4c4"/><text x="5.5" y="0.6" font-size="8" font-weight="bold" fill="#fbfbfb" stroke="#cbcbcb" stroke-width="0.7" textLength="20" lengthAdjust="spacingAndGlyphs">TECH</text><rect x="6" y="2.2" width="18.5" height="1.3" fill="#e6e6e6"/></g><g transform="translate(122.0,351.2) rotate(-31)"><rect x="-24.5" y="-4.2" width="21" height="8.4" rx="1.2" fill="#d8d8d8"/><text x="-14" y="2.9" text-anchor="middle" font-size="8" font-weight="bold" fill="#fff" textLength="17.5" lengthAdjust="spacingAndGlyphs">STOP</text><circle cx="0" cy="0" r="4.2" fill="#d4d4d4"/><ellipse cx="0" cy="0" rx="2" ry="3" fill="#f6f6f6"/><ellipse cx="0.2" cy="0" rx="0.9" ry="2.2" fill="#c4c4c4"/><text x="5.5" y="0.6" font-size="8" font-weight="bold" fill="#fbfbfb" stroke="#cbcbcb" stroke-width="0.7" textLength="20" lengthAdjust="spacingAndGlyphs">TECH</text><rect x="6" y="2.2" width="18.5" height="1.3" fill="#e6e6e6"/></g><g transform="translate(92.0,228.9) rotate(-31)"><rect x="-24.5" y="-4.2" width="21" height="8.4" rx="1.2" fill="#d8d8d8"/><text x="-14" y="2.9" text-anchor="middle" font-size="8" font-weight="bold" fill="#fff" textLength="17.5" lengthAdjust="spacingAndGlyphs">STOP</text><circle cx="0" cy="0" r="4.2" fill="#d4d4d4"/><ellipse cx="0" cy="0" rx="2" ry="3" fill="#f6f6f6"/><ellipse cx="0.2" cy="0" rx="0.9" ry="2.2" fill="#c4c4c4"/><text x="5.5" y="0.6" font-size="8" font-weight="bold" fill="#fbfbfb" stroke="#cbcbcb" stroke-width="0.7" textLength="20" lengthAdjust="spacingAndGlyphs">TECH</text><rect x="6" y="2.2" width="18.5" height="1.3" fill="#e6e6e6"/></g><g transform="translate(108.5,259.3) rotate(-31)"><rect x="-24.5" y="-4.2" width="21" height="8.4" rx="1.2" fill="#d8d8d8"/><text x="-14" y="2.9" text-anchor="middle" font-size="8" font-weight="bold" fill="#fff" textLength="17.5" lengthAdjust="spacingAndGlyphs">STOP</text><circle cx="0" cy="0" r="4.2" fill="#d4d4d4"/><ellipse cx="0" cy="0" rx="2" ry="3" fill="#f6f6f6"/><ellipse cx="0.2" cy="0" rx="0.9" ry="2.2" fill="#c4c4c4"/><text x="5.5" y="0.6" font-size="8" font-weight="bold" fill="#fbfbfb" stroke="#cbcbcb" stroke-width="0.7" textLength="20" lengthAdjust="spacingAndGlyphs">TECH</text><rect x="6" y="2.2" width="18.5" height="1.3" fill="#e6e6e6"/></g><g transform="translate(125.0,289.7) rotate(-31)"><rect x="-24.5" y="-4.2" width="21" height="8.4" rx="1.2" fill="#d8d8d8"/><text x="-14" y="2.9" text-anchor="middle" font-size="8" font-weight="bold" fill="#fff" textLength="17.5" lengthAdjust="spacingAndGlyphs">STOP</text><circle cx="0" cy="0" r="4.2" fill="#d4d4d4"/><ellipse cx="0" cy="0" rx="2" ry="3" fill="#f6f6f6"/><ellipse cx="0.2" cy="0" rx="0.9" ry="2.2" fill="#c4c4c4"/><text x="5.5" y="0.6" font-size="8" font-weight="bold" fill="#fbfbfb" stroke="#cbcbcb" stroke-width="0.7" textLength="20" lengthAdjust="spacingAndGlyphs">TECH</text><rect x="6" y="2.2" width="18.5" height="1.3" fill="#e6e6e6"/></g><g transform="translate(141.5,320.1) rotate(-31)"><rect x="-24.5" y="-4.2" width="21" height="8.4" rx="1.2" fill="#d8d8d8"/><text x="-14" y="2.9" text-anchor="middle" font-size="8" font-weight="bold" fill="#fff" textLength="17.5" lengthAdjust="spacingAndGlyphs">STOP</text><circle cx="0" cy="0" r="4.2" fill="#d4d4d4"/><ellipse cx="0" cy="0" rx="2" ry="3" fill="#f6f6f6"/><ellipse cx="0.2" cy="0" rx="0.9" ry="2.2" fill="#c4c4c4"/><text x="5.5" y="0.6" font-size="8" font-weight="bold" fill="#fbfbfb" stroke="#cbcbcb" stroke-width="0.7" textLength="20" lengthAdjust="spacingAndGlyphs">TECH</text><rect x="6" y="2.2" width="18.5" height="1.3" fill="#e6e6e6"/></g><g transform="translate(158.0,350.5) rotate(-31)"><rect x="-24.5" y="-4.2" width="21" height="8.4" rx="1.2" fill="#d8d8d8"/><text x="-14" y="2.9" text-anchor="middle" font-size="8" font-weight="bold" fill="#fff" textLength="17.5" lengthAdjust="spacingAndGlyphs">STOP</text><circle cx="0" cy="0" r="4.2" fill="#d4d4d4"/><ellipse cx="0" cy="0" rx="2" ry="3" fill="#f6f6f6"/><ellipse cx="0.2" cy="0" rx="0.9" ry="2.2" fill="#c4c4c4"/><text x="5.5" y="0.6" font-size="8" font-weight="bold" fill="#fbfbfb" stroke="#cbcbcb" stroke-width="0.7" textLength="20" lengthAdjust="spacingAndGlyphs">TECH</text><rect x="6" y="2.2" width="18.5" height="1.3" fill="#e6e6e6"/></g><g transform="translate(95.0,167.4) rotate(-31)"><rect x="-24.5" y="-4.2" width="21" height="8.4" rx="1.2" fill="#d8d8d8"/><text x="-14" y="2.9" text-anchor="middle" font-size="8" font-weight="bold" fill="#fff" textLength="17.5" lengthAdjust="spacingAndGlyphs">STOP</text><circle cx="0" cy="0" r="4.2" fill="#d4d4d4"/><ellipse cx="0" cy="0" rx="2" ry="3" fill="#f6f6f6"/><ellipse cx="0.2" cy="0" rx="0.9" ry="2.2" fill="#c4c4c4"/><text x="5.5" y="0.6" font-size="8" font-weight="bold" fill="#fbfbfb" stroke="#cbcbcb" stroke-width="0.7" textLength="20" lengthAdjust="spacingAndGlyphs">TECH</text><rect x="6" y="2.2" width="18.5" height="1.3" fill="#e6e6e6"/></g><g transform="translate(111.5,197.8) rotate(-31)"><rect x="-24.5" y="-4.2" width="21" height="8.4" rx="1.2" fill="#d8d8d8"/><text x="-14" y="2.9" text-anchor="middle" font-size="8" font-weight="bold" fill="#fff" textLength="17.5" lengthAdjust="spacingAndGlyphs">STOP</text><circle cx="0" cy="0" r="4.2" fill="#d4d4d4"/><ellipse cx="0" cy="0" rx="2" ry="3" fill="#f6f6f6"/><ellipse cx="0.2" cy="0" rx="0.9" ry="2.2" fill="#c4c4c4"/><text x="5.5" y="0.6" font-size="8" font-weight="bold" fill="#fbfbfb" stroke="#cbcbcb" stroke-width="0.7" textLength="20" lengthAdjust="spacingAndGlyphs">TECH</text><rect x="6" y="2.2" width="18.5" height="1.3" fill="#e6e6e6"/></g><g transform="translate(128.0,228.2) rotate(-31)"><rect x="-24.5" y="-4.2" width="21" height="8.4" rx="1.2" fill="#d8d8d8"/><text x="-14" y="2.9" text-anchor="middle" font-size="8" font-weight="bold" fill="#fff" textLength="17.5" lengthAdjust="spacingAndGlyphs">STOP</text><circle cx="0" cy="0" r="4.2" fill="#d4d4d4"/><ellipse cx="0" cy="0" rx="2" ry="3" fill="#f6f6f6"/><ellipse cx="0.2" cy="0" rx="0.9" ry="2.2" fill="#c4c4c4"/><text x="5.5" y="0.6" font-size="8" font-weight="bold" fill="#fbfbfb" stroke="#cbcbcb" stroke-width="0.7" textLength="20" lengthAdjust="spacingAndGlyphs">TECH</text><rect x="6" y="2.2" width="18.5" height="1.3" fill="#e6e6e6"/></g><g transform="translate(144.5,258.6) rotate(-31)"><rect x="-24.5" y="-4.2" width="21" height="8.4" rx="1.2" fill="#d8d8d8"/><text x="-14" y="2.9" text-anchor="middle" font-size="8" font-weight="bold" fill="#fff" textLength="17.5" lengthAdjust="spacingAndGlyphs">STOP</text><circle cx="0" cy="0" r="4.2" fill="#d4d4d4"/><ellipse cx="0" cy="0" rx="2" ry="3" fill="#f6f6f6"/><ellipse cx="0.2" cy="0" rx="0.9" ry="2.2" fill="#c4c4c4"/><text x="5.5" y="0.6" font-size="8" font-weight="bold" fill="#fbfbfb" stroke="#cbcbcb" stroke-width="0.7" textLength="20" lengthAdjust="spacingAndGlyphs">TECH</text><rect x="6" y="2.2" width="18.5" height="1.3" fill="#e6e6e6"/></g><g transform="translate(161.0,289.0) rotate(-31)"><rect x="-24.5" y="-4.2" width="21" height="8.4" rx="1.2" fill="#d8d8d8"/><text x="-14" y="2.9" text-anchor="middle" font-size="8" font-weight="bold" fill="#fff" textLength="17.5" lengthAdjust="spacingAndGlyphs">STOP</text><circle cx="0" cy="0" r="4.2" fill="#d4d4d4"/><ellipse cx="0" cy="0" rx="2" ry="3" fill="#f6f6f6"/><ellipse cx="0.2" cy="0" rx="0.9" ry="2.2" fill="#c4c4c4"/><text x="5.5" y="0.6" font-size="8" font-weight="bold" fill="#fbfbfb" stroke="#cbcbcb" stroke-width="0.7" textLength="20" lengthAdjust="spacingAndGlyphs">TECH</text><rect x="6" y="2.2" width="18.5" height="1.3" fill="#e6e6e6"/></g><g transform="translate(177.5,319.4) rotate(-31)"><rect x="-24.5" y="-4.2" width="21" height="8.4" rx="1.2" fill="#d8d8d8"/><text x="-14" y="2.9" text-anchor="middle" font-size="8" font-weight="bold" fill="#fff" textLength="17.5" lengthAdjust="spacingAndGlyphs">STOP</text><circle cx="0" cy="0" r="4.2" fill="#d4d4d4"/><ellipse cx="0" cy="0" rx="2" ry="3" fill="#f6f6f6"/><ellipse cx="0.2" cy="0" rx="0.9" ry="2.2" fill="#c4c4c4"/><text x="5.5" y="0.6" font-size="8" font-weight="bold" fill="#fbfbfb" stroke="#cbcbcb" stroke-width="0.7" textLength="20" lengthAdjust="spacingAndGlyphs">TECH</text><rect x="6" y="2.2" width="18.5" height="1.3" fill="#e6e6e6"/></g><g transform="translate(194.0,349.8) rotate(-31)"><rect x="-24.5" y="-4.2" width="21" height="8.4" rx="1.2" fill="#d8d8d8"/><text x="-14" y="2.9" text-anchor="middle" font-size="8" font-weight="bold" fill="#fff" textLength="17.5" lengthAdjust="spacingAndGlyphs">STOP</text><circle cx="0" cy="0" r="4.2" fill="#d4d4d4"/><ellipse cx="0" cy="0" rx="2" ry="3" fill="#f6f6f6"/><ellipse cx="0.2" cy="0" rx="0.9" ry="2.2" fill="#c4c4c4"/><text x="5.5" y="0.6" font-size="8" font-weight="bold" fill="#fbfbfb" stroke="#cbcbcb" stroke-width="0.7" textLength="20" lengthAdjust="spacingAndGlyphs">TECH</text><rect x="6" y="2.2" width="18.5" height="1.3" fill="#e6e6e6"/></g><g transform="translate(131.0,166.7) rotate(-31)"><rect x="-24.5" y="-4.2" width="21" height="8.4" rx="1.2" fill="#d8d8d8"/><text x="-14" y="2.9" text-anchor="middle" font-size="8" font-weight="bold" fill="#fff" textLength="17.5" lengthAdjust="spacingAndGlyphs">STOP</text><circle cx="0" cy="0" r="4.2" fill="#d4d4d4"/><ellipse cx="0" cy="0" rx="2" ry="3" fill="#f6f6f6"/><ellipse cx="0.2" cy="0" rx="0.9" ry="2.2" fill="#c4c4c4"/><text x="5.5" y="0.6" font-size="8" font-weight="bold" fill="#fbfbfb" stroke="#cbcbcb" stroke-width="0.7" textLength="20" lengthAdjust="spacingAndGlyphs">TECH</text><rect x="6" y="2.2" width="18.5" height="1.3" fill="#e6e6e6"/></g><g transform="translate(147.5,197.1) rotate(-31)"><rect x="-24.5" y="-4.2" width="21" height="8.4" rx="1.2" fill="#d8d8d8"/><text x="-14" y="2.9" text-anchor="middle" font-size="8" font-weight="bold" fill="#fff" textLength="17.5" lengthAdjust="spacingAndGlyphs">STOP</text><circle cx="0" cy="0" r="4.2" fill="#d4d4d4"/><ellipse cx="0" cy="0" rx="2" ry="3" fill="#f6f6f6"/><ellipse cx="0.2" cy="0" rx="0.9" ry="2.2" fill="#c4c4c4"/><text x="5.5" y="0.6" font-size="8" font-weight="bold" fill="#fbfbfb" stroke="#cbcbcb" stroke-width="0.7" textLength="20" lengthAdjust="spacingAndGlyphs">TECH</text><rect x="6" y="2.2" width="18.5" height="1.3" fill="#e6e6e6"/></g><g transform="translate(164.0,227.5) rotate(-31)"><rect x="-24.5" y="-4.2" width="21" height="8.4" rx="1.2" fill="#d8d8d8"/><text x="-14" y="2.9" text-anchor="middle" font-size="8" font-weight="bold" fill="#fff" textLength="17.5" lengthAdjust="spacingAndGlyphs">STOP</text><circle cx="0" cy="0" r="4.2" fill="#d4d4d4"/><ellipse cx="0" cy="0" rx="2" ry="3" fill="#f6f6f6"/><ellipse cx="0.2" cy="0" rx="0.9" ry="2.2" fill="#c4c4c4"/><text x="5.5" y="0.6" font-size="8" font-weight="bold" fill="#fbfbfb" stroke="#cbcbcb" stroke-width="0.7" textLength="20" lengthAdjust="spacingAndGlyphs">TECH</text><rect x="6" y="2.2" width="18.5" height="1.3" fill="#e6e6e6"/></g><g transform="translate(180.5,257.9) rotate(-31)"><rect x="-24.5" y="-4.2" width="21" height="8.4" rx="1.2" fill="#d8d8d8"/><text x="-14" y="2.9" text-anchor="middle" font-size="8" font-weight="bold" fill="#fff" textLength="17.5" lengthAdjust="spacingAndGlyphs">STOP</text><circle cx="0" cy="0" r="4.2" fill="#d4d4d4"/><ellipse cx="0" cy="0" rx="2" ry="3" fill="#f6f6f6"/><ellipse cx="0.2" cy="0" rx="0.9" ry="2.2" fill="#c4c4c4"/><text x="5.5" y="0.6" font-size="8" font-weight="bold" fill="#fbfbfb" stroke="#cbcbcb" stroke-width="0.7" textLength="20" lengthAdjust="spacingAndGlyphs">TECH</text><rect x="6" y="2.2" width="18.5" height="1.3" fill="#e6e6e6"/></g><g transform="translate(197.0,288.3) rotate(-31)"><rect x="-24.5" y="-4.2" width="21" height="8.4" rx="1.2" fill="#d8d8d8"/><text x="-14" y="2.9" text-anchor="middle" font-size="8" font-weight="bold" fill="#fff" textLength="17.5" lengthAdjust="spacingAndGlyphs">STOP</text><circle cx="0" cy="0" r="4.2" fill="#d4d4d4"/><ellipse cx="0" cy="0" rx="2" ry="3" fill="#f6f6f6"/><ellipse cx="0.2" cy="0" rx="0.9" ry="2.2" fill="#c4c4c4"/><text x="5.5" y="0.6" font-size="8" font-weight="bold" fill="#fbfbfb" stroke="#cbcbcb" stroke-width="0.7" textLength="20" lengthAdjust="spacingAndGlyphs">TECH</text><rect x="6" y="2.2" width="18.5" height="1.3" fill="#e6e6e6"/></g><g transform="translate(213.5,318.7) rotate(-31)"><rect x="-24.5" y="-4.2" width="21" height="8.4" rx="1.2" fill="#d8d8d8"/><text x="-14" y="2.9" text-anchor="middle" font-size="8" font-weight="bold" fill="#fff" textLength="17.5" lengthAdjust="spacingAndGlyphs">STOP</text><circle cx="0" cy="0" r="4.2" fill="#d4d4d4"/><ellipse cx="0" cy="0" rx="2" ry="3" fill="#f6f6f6"/><ellipse cx="0.2" cy="0" rx="0.9" ry="2.2" fill="#c4c4c4"/><text x="5.5" y="0.6" font-size="8" font-weight="bold" fill="#fbfbfb" stroke="#cbcbcb" stroke-width="0.7" textLength="20" lengthAdjust="spacingAndGlyphs">TECH</text><rect x="6" y="2.2" width="18.5" height="1.3" fill="#e6e6e6"/></g><g transform="translate(230.0,349.1) rotate(-31)"><rect x="-24.5" y="-4.2" width="21" height="8.4" rx="1.2" fill="#d8d8d8"/><text x="-14" y="2.9" text-anchor="middle" font-size="8" font-weight="bold" fill="#fff" textLength="17.5" lengthAdjust="spacingAndGlyphs">STOP</text><circle cx="0" cy="0" r="4.2" fill="#d4d4d4"/><ellipse cx="0" cy="0" rx="2" ry="3" fill="#f6f6f6"/><ellipse cx="0.2" cy="0" rx="0.9" ry="2.2" fill="#c4c4c4"/><text x="5.5" y="0.6" font-size="8" font-weight="bold" fill="#fbfbfb" stroke="#cbcbcb" stroke-width="0.7" textLength="20" lengthAdjust="spacingAndGlyphs">TECH</text><rect x="6" y="2.2" width="18.5" height="1.3" fill="#e6e6e6"/></g><g transform="translate(167.0,166.0) rotate(-31)"><rect x="-24.5" y="-4.2" width="21" height="8.4" rx="1.2" fill="#d8d8d8"/><text x="-14" y="2.9" text-anchor="middle" font-size="8" font-weight="bold" fill="#fff" textLength="17.5" lengthAdjust="spacingAndGlyphs">STOP</text><circle cx="0" cy="0" r="4.2" fill="#d4d4d4"/><ellipse cx="0" cy="0" rx="2" ry="3" fill="#f6f6f6"/><ellipse cx="0.2" cy="0" rx="0.9" ry="2.2" fill="#c4c4c4"/><text x="5.5" y="0.6" font-size="8" font-weight="bold" fill="#fbfbfb" stroke="#cbcbcb" stroke-width="0.7" textLength="20" lengthAdjust="spacingAndGlyphs">TECH</text><rect x="6" y="2.2" width="18.5" height="1.3" fill="#e6e6e6"/></g><g transform="translate(183.5,196.4) rotate(-31)"><rect x="-24.5" y="-4.2" width="21" height="8.4" rx="1.2" fill="#d8d8d8"/><text x="-14" y="2.9" text-anchor="middle" font-size="8" font-weight="bold" fill="#fff" textLength="17.5" lengthAdjust="spacingAndGlyphs">STOP</text><circle cx="0" cy="0" r="4.2" fill="#d4d4d4"/><ellipse cx="0" cy="0" rx="2" ry="3" fill="#f6f6f6"/><ellipse cx="0.2" cy="0" rx="0.9" ry="2.2" fill="#c4c4c4"/><text x="5.5" y="0.6" font-size="8" font-weight="bold" fill="#fbfbfb" stroke="#cbcbcb" stroke-width="0.7" textLength="20" lengthAdjust="spacingAndGlyphs">TECH</text><rect x="6" y="2.2" width="18.5" height="1.3" fill="#e6e6e6"/></g><g transform="translate(200.0,226.8) rotate(-31)"><rect x="-24.5" y="-4.2" width="21" height="8.4" rx="1.2" fill="#d8d8d8"/><text x="-14" y="2.9" text-anchor="middle" font-size="8" font-weight="bold" fill="#fff" textLength="17.5" lengthAdjust="spacingAndGlyphs">STOP</text><circle cx="0" cy="0" r="4.2" fill="#d4d4d4"/><ellipse cx="0" cy="0" rx="2" ry="3" fill="#f6f6f6"/><ellipse cx="0.2" cy="0" rx="0.9" ry="2.2" fill="#c4c4c4"/><text x="5.5" y="0.6" font-size="8" font-weight="bold" fill="#fbfbfb" stroke="#cbcbcb" stroke-width="0.7" textLength="20" lengthAdjust="spacingAndGlyphs">TECH</text><rect x="6" y="2.2" width="18.5" height="1.3" fill="#e6e6e6"/></g><g transform="translate(216.5,257.2) rotate(-31)"><rect x="-24.5" y="-4.2" width="21" height="8.4" rx="1.2" fill="#d8d8d8"/><text x="-14" y="2.9" text-anchor="middle" font-size="8" font-weight="bold" fill="#fff" textLength="17.5" lengthAdjust="spacingAndGlyphs">STOP</text><circle cx="0" cy="0" r="4.2" fill="#d4d4d4"/><ellipse cx="0" cy="0" rx="2" ry="3" fill="#f6f6f6"/><ellipse cx="0.2" cy="0" rx="0.9" ry="2.2" fill="#c4c4c4"/><text x="5.5" y="0.6" font-size="8" font-weight="bold" fill="#fbfbfb" stroke="#cbcbcb" stroke-width="0.7" textLength="20" lengthAdjust="spacingAndGlyphs">TECH</text><rect x="6" y="2.2" width="18.5" height="1.3" fill="#e6e6e6"/></g><g transform="translate(233.0,287.6) rotate(-31)"><rect x="-24.5" y="-4.2" width="21" height="8.4" rx="1.2" fill="#d8d8d8"/><text x="-14" y="2.9" text-anchor="middle" font-size="8" font-weight="bold" fill="#fff" textLength="17.5" lengthAdjust="spacingAndGlyphs">STOP</text><circle cx="0" cy="0" r="4.2" fill="#d4d4d4"/><ellipse cx="0" cy="0" rx="2" ry="3" fill="#f6f6f6"/><ellipse cx="0.2" cy="0" rx="0.9" ry="2.2" fill="#c4c4c4"/><text x="5.5" y="0.6" font-size="8" font-weight="bold" fill="#fbfbfb" stroke="#cbcbcb" stroke-width="0.7" textLength="20" lengthAdjust="spacingAndGlyphs">TECH</text><rect x="6" y="2.2" width="18.5" height="1.3" fill="#e6e6e6"/></g><g transform="translate(249.5,318.0) rotate(-31)"><rect x="-24.5" y="-4.2" width="21" height="8.4" rx="1.2" fill="#d8d8d8"/><text x="-14" y="2.9" text-anchor="middle" font-size="8" font-weight="bold" fill="#fff" textLength="17.5" lengthAdjust="spacingAndGlyphs">STOP</text><circle cx="0" cy="0" r="4.2" fill="#d4d4d4"/><ellipse cx="0" cy="0" rx="2" ry="3" fill="#f6f6f6"/><ellipse cx="0.2" cy="0" rx="0.9" ry="2.2" fill="#c4c4c4"/><text x="5.5" y="0.6" font-size="8" font-weight="bold" fill="#fbfbfb" stroke="#cbcbcb" stroke-width="0.7" textLength="20" lengthAdjust="spacingAndGlyphs">TECH</text><rect x="6" y="2.2" width="18.5" height="1.3" fill="#e6e6e6"/></g><g transform="translate(266.0,348.4) rotate(-31)"><rect x="-24.5" y="-4.2" width="21" height="8.4" rx="1.2" fill="#d8d8d8"/><text x="-14" y="2.9" text-anchor="middle" font-size="8" font-weight="bold" fill="#fff" textLength="17.5" lengthAdjust="spacingAndGlyphs">STOP</text><circle cx="0" cy="0" r="4.2" fill="#d4d4d4"/><ellipse cx="0" cy="0" rx="2" ry="3" fill="#f6f6f6"/><ellipse cx="0.2" cy="0" rx="0.9" ry="2.2" fill="#c4c4c4"/><text x="5.5" y="0.6" font-size="8" font-weight="bold" fill="#fbfbfb" stroke="#cbcbcb" stroke-width="0.7" textLength="20" lengthAdjust="spacingAndGlyphs">TECH</text><rect x="6" y="2.2" width="18.5" height="1.3" fill="#e6e6e6"/></g><g transform="translate(203.0,165.3) rotate(-31)"><rect x="-24.5" y="-4.2" width="21" height="8.4" rx="1.2" fill="#d8d8d8"/><text x="-14" y="2.9" text-anchor="middle" font-size="8" font-weight="bold" fill="#fff" textLength="17.5" lengthAdjust="spacingAndGlyphs">STOP</text><circle cx="0" cy="0" r="4.2" fill="#d4d4d4"/><ellipse cx="0" cy="0" rx="2" ry="3" fill="#f6f6f6"/><ellipse cx="0.2" cy="0" rx="0.9" ry="2.2" fill="#c4c4c4"/><text x="5.5" y="0.6" font-size="8" font-weight="bold" fill="#fbfbfb" stroke="#cbcbcb" stroke-width="0.7" textLength="20" lengthAdjust="spacingAndGlyphs">TECH</text><rect x="6" y="2.2" width="18.5" height="1.3" fill="#e6e6e6"/></g><g transform="translate(219.5,195.7) rotate(-31)"><rect x="-24.5" y="-4.2" width="21" height="8.4" rx="1.2" fill="#d8d8d8"/><text x="-14" y="2.9" text-anchor="middle" font-size="8" font-weight="bold" fill="#fff" textLength="17.5" lengthAdjust="spacingAndGlyphs">STOP</text><circle cx="0" cy="0" r="4.2" fill="#d4d4d4"/><ellipse cx="0" cy="0" rx="2" ry="3" fill="#f6f6f6"/><ellipse cx="0.2" cy="0" rx="0.9" ry="2.2" fill="#c4c4c4"/><text x="5.5" y="0.6" font-size="8" font-weight="bold" fill="#fbfbfb" stroke="#cbcbcb" stroke-width="0.7" textLength="20" lengthAdjust="spacingAndGlyphs">TECH</text><rect x="6" y="2.2" width="18.5" height="1.3" fill="#e6e6e6"/></g><g transform="translate(236.0,226.1) rotate(-31)"><rect x="-24.5" y="-4.2" width="21" height="8.4" rx="1.2" fill="#d8d8d8"/><text x="-14" y="2.9" text-anchor="middle" font-size="8" font-weight="bold" fill="#fff" textLength="17.5" lengthAdjust="spacingAndGlyphs">STOP</text><circle cx="0" cy="0" r="4.2" fill="#d4d4d4"/><ellipse cx="0" cy="0" rx="2" ry="3" fill="#f6f6f6"/><ellipse cx="0.2" cy="0" rx="0.9" ry="2.2" fill="#c4c4c4"/><text x="5.5" y="0.6" font-size="8" font-weight="bold" fill="#fbfbfb" stroke="#cbcbcb" stroke-width="0.7" textLength="20" lengthAdjust="spacingAndGlyphs">TECH</text><rect x="6" y="2.2" width="18.5" height="1.3" fill="#e6e6e6"/></g><g transform="translate(252.5,256.5) rotate(-31)"><rect x="-24.5" y="-4.2" width="21" height="8.4" rx="1.2" fill="#d8d8d8"/><text x="-14" y="2.9" text-anchor="middle" font-size="8" font-weight="bold" fill="#fff" textLength="17.5" lengthAdjust="spacingAndGlyphs">STOP</text><circle cx="0" cy="0" r="4.2" fill="#d4d4d4"/><ellipse cx="0" cy="0" rx="2" ry="3" fill="#f6f6f6"/><ellipse cx="0.2" cy="0" rx="0.9" ry="2.2" fill="#c4c4c4"/><text x="5.5" y="0.6" font-size="8" font-weight="bold" fill="#fbfbfb" stroke="#cbcbcb" stroke-width="0.7" textLength="20" lengthAdjust="spacingAndGlyphs">TECH</text><rect x="6" y="2.2" width="18.5" height="1.3" fill="#e6e6e6"/></g><g transform="translate(269.0,286.9) rotate(-31)"><rect x="-24.5" y="-4.2" width="21" height="8.4" rx="1.2" fill="#d8d8d8"/><text x="-14" y="2.9" text-anchor="middle" font-size="8" font-weight="bold" fill="#fff" textLength="17.5" lengthAdjust="spacingAndGlyphs">STOP</text><circle cx="0" cy="0" r="4.2" fill="#d4d4d4"/><ellipse cx="0" cy="0" rx="2" ry="3" fill="#f6f6f6"/><ellipse cx="0.2" cy="0" rx="0.9" ry="2.2" fill="#c4c4c4"/><text x="5.5" y="0.6" font-size="8" font-weight="bold" fill="#fbfbfb" stroke="#cbcbcb" stroke-width="0.7" textLength="20" lengthAdjust="spacingAndGlyphs">TECH</text><rect x="6" y="2.2" width="18.5" height="1.3" fill="#e6e6e6"/></g><g transform="translate(285.5,317.3) rotate(-31)"><rect x="-24.5" y="-4.2" width="21" height="8.4" rx="1.2" fill="#d8d8d8"/><text x="-14" y="2.9" text-anchor="middle" font-size="8" font-weight="bold" fill="#fff" textLength="17.5" lengthAdjust="spacingAndGlyphs">STOP</text><circle cx="0" cy="0" r="4.2" fill="#d4d4d4"/><ellipse cx="0" cy="0" rx="2" ry="3" fill="#f6f6f6"/><ellipse cx="0.2" cy="0" rx="0.9" ry="2.2" fill="#c4c4c4"/><text x="5.5" y="0.6" font-size="8" font-weight="bold" fill="#fbfbfb" stroke="#cbcbcb" stroke-width="0.7" textLength="20" lengthAdjust="spacingAndGlyphs">TECH</text><rect x="6" y="2.2" width="18.5" height="1.3" fill="#e6e6e6"/></g><g transform="translate(302.0,347.7) rotate(-31)"><rect x="-24.5" y="-4.2" width="21" height="8.4" rx="1.2" fill="#d8d8d8"/><text x="-14" y="2.9" text-anchor="middle" font-size="8" font-weight="bold" fill="#fff" textLength="17.5" lengthAdjust="spacingAndGlyphs">STOP</text><circle cx="0" cy="0" r="4.2" fill="#d4d4d4"/><ellipse cx="0" cy="0" rx="2" ry="3" fill="#f6f6f6"/><ellipse cx="0.2" cy="0" rx="0.9" ry="2.2" fill="#c4c4c4"/><text x="5.5" y="0.6" font-size="8" font-weight="bold" fill="#fbfbfb" stroke="#cbcbcb" stroke-width="0.7" textLength="20" lengthAdjust="spacingAndGlyphs">TECH</text><rect x="6" y="2.2" width="18.5" height="1.3" fill="#e6e6e6"/></g><g transform="translate(239.0,164.6) rotate(-31)"><rect x="-24.5" y="-4.2" width="21" height="8.4" rx="1.2" fill="#d8d8d8"/><text x="-14" y="2.9" text-anchor="middle" font-size="8" font-weight="bold" fill="#fff" textLength="17.5" lengthAdjust="spacingAndGlyphs">STOP</text><circle cx="0" cy="0" r="4.2" fill="#d4d4d4"/><ellipse cx="0" cy="0" rx="2" ry="3" fill="#f6f6f6"/><ellipse cx="0.2" cy="0" rx="0.9" ry="2.2" fill="#c4c4c4"/><text x="5.5" y="0.6" font-size="8" font-weight="bold" fill="#fbfbfb" stroke="#cbcbcb" stroke-width="0.7" textLength="20" lengthAdjust="spacingAndGlyphs">TECH</text><rect x="6" y="2.2" width="18.5" height="1.3" fill="#e6e6e6"/></g><g transform="translate(255.5,195.0) rotate(-31)"><rect x="-24.5" y="-4.2" width="21" height="8.4" rx="1.2" fill="#d8d8d8"/><text x="-14" y="2.9" text-anchor="middle" font-size="8" font-weight="bold" fill="#fff" textLength="17.5" lengthAdjust="spacingAndGlyphs">STOP</text><circle cx="0" cy="0" r="4.2" fill="#d4d4d4"/><ellipse cx="0" cy="0" rx="2" ry="3" fill="#f6f6f6"/><ellipse cx="0.2" cy="0" rx="0.9" ry="2.2" fill="#c4c4c4"/><text x="5.5" y="0.6" font-size="8" font-weight="bold" fill="#fbfbfb" stroke="#cbcbcb" stroke-width="0.7" textLength="20" lengthAdjust="spacingAndGlyphs">TECH</text><rect x="6" y="2.2" width="18.5" height="1.3" fill="#e6e6e6"/></g><g transform="translate(272.0,225.4) rotate(-31)"><rect x="-24.5" y="-4.2" width="21" height="8.4" rx="1.2" fill="#d8d8d8"/><text x="-14" y="2.9" text-anchor="middle" font-size="8" font-weight="bold" fill="#fff" textLength="17.5" lengthAdjust="spacingAndGlyphs">STOP</text><circle cx="0" cy="0" r="4.2" fill="#d4d4d4"/><ellipse cx="0" cy="0" rx="2" ry="3" fill="#f6f6f6"/><ellipse cx="0.2" cy="0" rx="0.9" ry="2.2" fill="#c4c4c4"/><text x="5.5" y="0.6" font-size="8" font-weight="bold" fill="#fbfbfb" stroke="#cbcbcb" stroke-width="0.7" textLength="20" lengthAdjust="spacingAndGlyphs">TECH</text><rect x="6" y="2.2" width="18.5" height="1.3" fill="#e6e6e6"/></g><g transform="translate(288.5,255.8) rotate(-31)"><rect x="-24.5" y="-4.2" width="21" height="8.4" rx="1.2" fill="#d8d8d8"/><text x="-14" y="2.9" text-anchor="middle" font-size="8" font-weight="bold" fill="#fff" textLength="17.5" lengthAdjust="spacingAndGlyphs">STOP</text><circle cx="0" cy="0" r="4.2" fill="#d4d4d4"/><ellipse cx="0" cy="0" rx="2" ry="3" fill="#f6f6f6"/><ellipse cx="0.2" cy="0" rx="0.9" ry="2.2" fill="#c4c4c4"/><text x="5.5" y="0.6" font-size="8" font-weight="bold" fill="#fbfbfb" stroke="#cbcbcb" stroke-width="0.7" textLength="20" lengthAdjust="spacingAndGlyphs">TECH</text><rect x="6" y="2.2" width="18.5" height="1.3" fill="#e6e6e6"/></g><g transform="translate(305.0,286.2) rotate(-31)"><rect x="-24.5" y="-4.2" width="21" height="8.4" rx="1.2" fill="#d8d8d8"/><text x="-14" y="2.9" text-anchor="middle" font-size="8" font-weight="bold" fill="#fff" textLength="17.5" lengthAdjust="spacingAndGlyphs">STOP</text><circle cx="0" cy="0" r="4.2" fill="#d4d4d4"/><ellipse cx="0" cy="0" rx="2" ry="3" fill="#f6f6f6"/><ellipse cx="0.2" cy="0" rx="0.9" ry="2.2" fill="#c4c4c4"/><text x="5.5" y="0.6" font-size="8" font-weight="bold" fill="#fbfbfb" stroke="#cbcbcb" stroke-width="0.7" textLength="20" lengthAdjust="spacingAndGlyphs">TECH</text><rect x="6" y="2.2" width="18.5" height="1.3" fill="#e6e6e6"/></g><g transform="translate(321.5,316.6) rotate(-31)"><rect x="-24.5" y="-4.2" width="21" height="8.4" rx="1.2" fill="#d8d8d8"/><text x="-14" y="2.9" text-anchor="middle" font-size="8" font-weight="bold" fill="#fff" textLength="17.5" lengthAdjust="spacingAndGlyphs">STOP</text><circle cx="0" cy="0" r="4.2" fill="#d4d4d4"/><ellipse cx="0" cy="0" rx="2" ry="3" fill="#f6f6f6"/><ellipse cx="0.2" cy="0" rx="0.9" ry="2.2" fill="#c4c4c4"/><text x="5.5" y="0.6" font-size="8" font-weight="bold" fill="#fbfbfb" stroke="#cbcbcb" stroke-width="0.7" textLength="20" lengthAdjust="spacingAndGlyphs">TECH</text><rect x="6" y="2.2" width="18.5" height="1.3" fill="#e6e6e6"/></g><g transform="translate(338.0,347.0) rotate(-31)"><rect x="-24.5" y="-4.2" width="21" height="8.4" rx="1.2" fill="#d8d8d8"/><text x="-14" y="2.9" text-anchor="middle" font-size="8" font-weight="bold" fill="#fff" textLength="17.5" lengthAdjust="spacingAndGlyphs">STOP</text><circle cx="0" cy="0" r="4.2" fill="#d4d4d4"/><ellipse cx="0" cy="0" rx="2" ry="3" fill="#f6f6f6"/><ellipse cx="0.2" cy="0" rx="0.9" ry="2.2" fill="#c4c4c4"/><text x="5.5" y="0.6" font-size="8" font-weight="bold" fill="#fbfbfb" stroke="#cbcbcb" stroke-width="0.7" textLength="20" lengthAdjust="spacingAndGlyphs">TECH</text><rect x="6" y="2.2" width="18.5" height="1.3" fill="#e6e6e6"/></g><g transform="translate(275.0,163.9) rotate(-31)"><rect x="-24.5" y="-4.2" width="21" height="8.4" rx="1.2" fill="#d8d8d8"/><text x="-14" y="2.9" text-anchor="middle" font-size="8" font-weight="bold" fill="#fff" textLength="17.5" lengthAdjust="spacingAndGlyphs">STOP</text><circle cx="0" cy="0" r="4.2" fill="#d4d4d4"/><ellipse cx="0" cy="0" rx="2" ry="3" fill="#f6f6f6"/><ellipse cx="0.2" cy="0" rx="0.9" ry="2.2" fill="#c4c4c4"/><text x="5.5" y="0.6" font-size="8" font-weight="bold" fill="#fbfbfb" stroke="#cbcbcb" stroke-width="0.7" textLength="20" lengthAdjust="spacingAndGlyphs">TECH</text><rect x="6" y="2.2" width="18.5" height="1.3" fill="#e6e6e6"/></g><g transform="translate(291.5,194.3) rotate(-31)"><rect x="-24.5" y="-4.2" width="21" height="8.4" rx="1.2" fill="#d8d8d8"/><text x="-14" y="2.9" text-anchor="middle" font-size="8" font-weight="bold" fill="#fff" textLength="17.5" lengthAdjust="spacingAndGlyphs">STOP</text><circle cx="0" cy="0" r="4.2" fill="#d4d4d4"/><ellipse cx="0" cy="0" rx="2" ry="3" fill="#f6f6f6"/><ellipse cx="0.2" cy="0" rx="0.9" ry="2.2" fill="#c4c4c4"/><text x="5.5" y="0.6" font-size="8" font-weight="bold" fill="#fbfbfb" stroke="#cbcbcb" stroke-width="0.7" textLength="20" lengthAdjust="spacingAndGlyphs">TECH</text><rect x="6" y="2.2" width="18.5" height="1.3" fill="#e6e6e6"/></g><g transform="translate(308.0,224.7) rotate(-31)"><rect x="-24.5" y="-4.2" width="21" height="8.4" rx="1.2" fill="#d8d8d8"/><text x="-14" y="2.9" text-anchor="middle" font-size="8" font-weight="bold" fill="#fff" textLength="17.5" lengthAdjust="spacingAndGlyphs">STOP</text><circle cx="0" cy="0" r="4.2" fill="#d4d4d4"/><ellipse cx="0" cy="0" rx="2" ry="3" fill="#f6f6f6"/><ellipse cx="0.2" cy="0" rx="0.9" ry="2.2" fill="#c4c4c4"/><text x="5.5" y="0.6" font-size="8" font-weight="bold" fill="#fbfbfb" stroke="#cbcbcb" stroke-width="0.7" textLength="20" lengthAdjust="spacingAndGlyphs">TECH</text><rect x="6" y="2.2" width="18.5" height="1.3" fill="#e6e6e6"/></g><g transform="translate(324.5,255.1) rotate(-31)"><rect x="-24.5" y="-4.2" width="21" height="8.4" rx="1.2" fill="#d8d8d8"/><text x="-14" y="2.9" text-anchor="middle" font-size="8" font-weight="bold" fill="#fff" textLength="17.5" lengthAdjust="spacingAndGlyphs">STOP</text><circle cx="0" cy="0" r="4.2" fill="#d4d4d4"/><ellipse cx="0" cy="0" rx="2" ry="3" fill="#f6f6f6"/><ellipse cx="0.2" cy="0" rx="0.9" ry="2.2" fill="#c4c4c4"/><text x="5.5" y="0.6" font-size="8" font-weight="bold" fill="#fbfbfb" stroke="#cbcbcb" stroke-width="0.7" textLength="20" lengthAdjust="spacingAndGlyphs">TECH</text><rect x="6" y="2.2" width="18.5" height="1.3" fill="#e6e6e6"/></g><g transform="translate(341.0,285.5) rotate(-31)"><rect x="-24.5" y="-4.2" width="21" height="8.4" rx="1.2" fill="#d8d8d8"/><text x="-14" y="2.9" text-anchor="middle" font-size="8" font-weight="bold" fill="#fff" textLength="17.5" lengthAdjust="spacingAndGlyphs">STOP</text><circle cx="0" cy="0" r="4.2" fill="#d4d4d4"/><ellipse cx="0" cy="0" rx="2" ry="3" fill="#f6f6f6"/><ellipse cx="0.2" cy="0" rx="0.9" ry="2.2" fill="#c4c4c4"/><text x="5.5" y="0.6" font-size="8" font-weight="bold" fill="#fbfbfb" stroke="#cbcbcb" stroke-width="0.7" textLength="20" lengthAdjust="spacingAndGlyphs">TECH</text><rect x="6" y="2.2" width="18.5" height="1.3" fill="#e6e6e6"/></g><g transform="translate(357.5,315.9) rotate(-31)"><rect x="-24.5" y="-4.2" width="21" height="8.4" rx="1.2" fill="#d8d8d8"/><text x="-14" y="2.9" text-anchor="middle" font-size="8" font-weight="bold" fill="#fff" textLength="17.5" lengthAdjust="spacingAndGlyphs">STOP</text><circle cx="0" cy="0" r="4.2" fill="#d4d4d4"/><ellipse cx="0" cy="0" rx="2" ry="3" fill="#f6f6f6"/><ellipse cx="0.2" cy="0" rx="0.9" ry="2.2" fill="#c4c4c4"/><text x="5.5" y="0.6" font-size="8" font-weight="bold" fill="#fbfbfb" stroke="#cbcbcb" stroke-width="0.7" textLength="20" lengthAdjust="spacingAndGlyphs">TECH</text><rect x="6" y="2.2" width="18.5" height="1.3" fill="#e6e6e6"/></g><g transform="translate(374.0,346.3) rotate(-31)"><rect x="-24.5" y="-4.2" width="21" height="8.4" rx="1.2" fill="#d8d8d8"/><text x="-14" y="2.9" text-anchor="middle" font-size="8" font-weight="bold" fill="#fff" textLength="17.5" lengthAdjust="spacingAndGlyphs">STOP</text><circle cx="0" cy="0" r="4.2" fill="#d4d4d4"/><ellipse cx="0" cy="0" rx="2" ry="3" fill="#f6f6f6"/><ellipse cx="0.2" cy="0" rx="0.9" ry="2.2" fill="#c4c4c4"/><text x="5.5" y="0.6" font-size="8" font-weight="bold" fill="#fbfbfb" stroke="#cbcbcb" stroke-width="0.7" textLength="20" lengthAdjust="spacingAndGlyphs">TECH</text><rect x="6" y="2.2" width="18.5" height="1.3" fill="#e6e6e6"/></g><g transform="translate(311.0,163.2) rotate(-31)"><rect x="-24.5" y="-4.2" width="21" height="8.4" rx="1.2" fill="#d8d8d8"/><text x="-14" y="2.9" text-anchor="middle" font-size="8" font-weight="bold" fill="#fff" textLength="17.5" lengthAdjust="spacingAndGlyphs">STOP</text><circle cx="0" cy="0" r="4.2" fill="#d4d4d4"/><ellipse cx="0" cy="0" rx="2" ry="3" fill="#f6f6f6"/><ellipse cx="0.2" cy="0" rx="0.9" ry="2.2" fill="#c4c4c4"/><text x="5.5" y="0.6" font-size="8" font-weight="bold" fill="#fbfbfb" stroke="#cbcbcb" stroke-width="0.7" textLength="20" lengthAdjust="spacingAndGlyphs">TECH</text><rect x="6" y="2.2" width="18.5" height="1.3" fill="#e6e6e6"/></g><g transform="translate(327.5,193.6) rotate(-31)"><rect x="-24.5" y="-4.2" width="21" height="8.4" rx="1.2" fill="#d8d8d8"/><text x="-14" y="2.9" text-anchor="middle" font-size="8" font-weight="bold" fill="#fff" textLength="17.5" lengthAdjust="spacingAndGlyphs">STOP</text><circle cx="0" cy="0" r="4.2" fill="#d4d4d4"/><ellipse cx="0" cy="0" rx="2" ry="3" fill="#f6f6f6"/><ellipse cx="0.2" cy="0" rx="0.9" ry="2.2" fill="#c4c4c4"/><text x="5.5" y="0.6" font-size="8" font-weight="bold" fill="#fbfbfb" stroke="#cbcbcb" stroke-width="0.7" textLength="20" lengthAdjust="spacingAndGlyphs">TECH</text><rect x="6" y="2.2" width="18.5" height="1.3" fill="#e6e6e6"/></g><g transform="translate(344.0,224.0) rotate(-31)"><rect x="-24.5" y="-4.2" width="21" height="8.4" rx="1.2" fill="#d8d8d8"/><text x="-14" y="2.9" text-anchor="middle" font-size="8" font-weight="bold" fill="#fff" textLength="17.5" lengthAdjust="spacingAndGlyphs">STOP</text><circle cx="0" cy="0" r="4.2" fill="#d4d4d4"/><ellipse cx="0" cy="0" rx="2" ry="3" fill="#f6f6f6"/><ellipse cx="0.2" cy="0" rx="0.9" ry="2.2" fill="#c4c4c4"/><text x="5.5" y="0.6" font-size="8" font-weight="bold" fill="#fbfbfb" stroke="#cbcbcb" stroke-width="0.7" textLength="20" lengthAdjust="spacingAndGlyphs">TECH</text><rect x="6" y="2.2" width="18.5" height="1.3" fill="#e6e6e6"/></g><g transform="translate(360.5,254.4) rotate(-31)"><rect x="-24.5" y="-4.2" width="21" height="8.4" rx="1.2" fill="#d8d8d8"/><text x="-14" y="2.9" text-anchor="middle" font-size="8" font-weight="bold" fill="#fff" textLength="17.5" lengthAdjust="spacingAndGlyphs">STOP</text><circle cx="0" cy="0" r="4.2" fill="#d4d4d4"/><ellipse cx="0" cy="0" rx="2" ry="3" fill="#f6f6f6"/><ellipse cx="0.2" cy="0" rx="0.9" ry="2.2" fill="#c4c4c4"/><text x="5.5" y="0.6" font-size="8" font-weight="bold" fill="#fbfbfb" stroke="#cbcbcb" stroke-width="0.7" textLength="20" lengthAdjust="spacingAndGlyphs">TECH</text><rect x="6" y="2.2" width="18.5" height="1.3" fill="#e6e6e6"/></g><g transform="translate(377.0,284.8) rotate(-31)"><rect x="-24.5" y="-4.2" width="21" height="8.4" rx="1.2" fill="#d8d8d8"/><text x="-14" y="2.9" text-anchor="middle" font-size="8" font-weight="bold" fill="#fff" textLength="17.5" lengthAdjust="spacingAndGlyphs">STOP</text><circle cx="0" cy="0" r="4.2" fill="#d4d4d4"/><ellipse cx="0" cy="0" rx="2" ry="3" fill="#f6f6f6"/><ellipse cx="0.2" cy="0" rx="0.9" ry="2.2" fill="#c4c4c4"/><text x="5.5" y="0.6" font-size="8" font-weight="bold" fill="#fbfbfb" stroke="#cbcbcb" stroke-width="0.7" textLength="20" lengthAdjust="spacingAndGlyphs">TECH</text><rect x="6" y="2.2" width="18.5" height="1.3" fill="#e6e6e6"/></g><g transform="translate(347.0,162.5) rotate(-31)"><rect x="-24.5" y="-4.2" width="21" height="8.4" rx="1.2" fill="#d8d8d8"/><text x="-14" y="2.9" text-anchor="middle" font-size="8" font-weight="bold" fill="#fff" textLength="17.5" lengthAdjust="spacingAndGlyphs">STOP</text><circle cx="0" cy="0" r="4.2" fill="#d4d4d4"/><ellipse cx="0" cy="0" rx="2" ry="3" fill="#f6f6f6"/><ellipse cx="0.2" cy="0" rx="0.9" ry="2.2" fill="#c4c4c4"/><text x="5.5" y="0.6" font-size="8" font-weight="bold" fill="#fbfbfb" stroke="#cbcbcb" stroke-width="0.7" textLength="20" lengthAdjust="spacingAndGlyphs">TECH</text><rect x="6" y="2.2" width="18.5" height="1.3" fill="#e6e6e6"/></g><g transform="translate(363.5,192.9) rotate(-31)"><rect x="-24.5" y="-4.2" width="21" height="8.4" rx="1.2" fill="#d8d8d8"/><text x="-14" y="2.9" text-anchor="middle" font-size="8" font-weight="bold" fill="#fff" textLength="17.5" lengthAdjust="spacingAndGlyphs">STOP</text><circle cx="0" cy="0" r="4.2" fill="#d4d4d4"/><ellipse cx="0" cy="0" rx="2" ry="3" fill="#f6f6f6"/><ellipse cx="0.2" cy="0" rx="0.9" ry="2.2" fill="#c4c4c4"/><text x="5.5" y="0.6" font-size="8" font-weight="bold" fill="#fbfbfb" stroke="#cbcbcb" stroke-width="0.7" textLength="20" lengthAdjust="spacingAndGlyphs">TECH</text><rect x="6" y="2.2" width="18.5" height="1.3" fill="#e6e6e6"/></g></g><g fill="none" stroke="#9a9a9a" stroke-width="0.8" stroke-dasharray="3,1.8"><path d="M117.6,168 L117.6,150.4 A10.9,10.9 0 0 1 139.4,150.4 L139.4,168"/><circle cx="128.4" cy="149.8" r="5.2"/><path d="M324.8,168 L324.8,150.3 A11.1,11.1 0 0 1 347,150.3 L347,168"/><circle cx="335.8" cy="149.7" r="5.4"/><path d="M186.2,157 L186.2,186"/><path d="M206.2,149 L206.2,186"/><path d="M122,243 L122,200.5 C122,197.5 123.5,196 126.5,195 L176,180.5 C181,179 184,178.8 188,178.8 L285,178.3 C300,179 318,186 331.5,196.5 C337,200.5 342.5,202 342.5,207 L342.5,242.5"/><path d="M140.5,269.8 L326,269.8"/><path d="M107.3,322 L107.3,342 L146,342"/><path d="M357,322 L357,342 L318,342"/></g><g fill="none" stroke="#333" stroke-width="1.15" stroke-linejoin="round"><path d="M110.4,243 L110.4,197 C110.4,191.5 112,189.6 116,188 L171.5,171.8 C176.5,170.6 180,172 182.5,176.5 C185,184.5 189,191 195.5,191 C202,191 206,185 208.8,178.5 C212,171 216,166.6 226,166.2 Q290,164 345,187 C351,190 353.8,194 353.8,200 L353.8,243 C353.8,247.5 352,249.4 347.5,249.4 L333,249.4 C327,249.4 324.9,253 324.9,260 L324.9,277 C324.9,292 317,300 305,300.2 C279,299 264,290.3 232,290.3 C200,290.3 185,299 159,300.2 C147,300 139.2,292 139.2,277 L139.2,260 C139.2,253 137,249.4 131,249.4 L116.5,249.4 C112,249.4 110.4,247.5 110.4,243 Z"/><path d="M117.2,168 L116.3,182.5 C116,186.5 107.2,189 107.2,197 L107.2,245 C107.2,250 109.5,252.7 115,252.7 L129,252.7 C133.5,252.7 135.5,255.5 135.5,261 L135.5,279 C135.5,294 142,303.2 158,303.2 C185,302 200,293.4 232,293.4 C264,293.4 279,302 306,303.2 C322,303.2 328.7,294 328.7,279 L328.7,261 C328.7,255.5 330.7,252.7 335.2,252.7 L349.2,252.7 C354.7,252.7 357,250 357,245 L357,200 C357,192 348.3,189.5 348,184 L347.2,168"/><path d="M324.5,167 C323.5,170.5 321.5,171.3 318.5,170.5 L270,153.6 C257,149.5 249.5,141 246.3,129.3 L217.8,129.3 C215,141 210,147.5 204.2,148.6 L203.8,174 C203.8,181.5 200,185.3 195.8,185.3 C191.5,185.3 188,181.5 188,174 L188,158.5 C188,156 186.8,155.2 184.5,156 L144.5,170.3 C141.5,171.2 140,170.2 139.5,168"/><circle cx="128.4" cy="150" r="21.2"/><circle cx="336" cy="150" r="21"/><rect x="219.2" y="135.6" width="25.4" height="20.6" rx="3"/><path d="M188.5,178.8 L203.5,178.8"/></g><rect x="121.5" y="309.3" width="221" height="2.2" fill="#f2f2f2" stroke="#b0b0b0" stroke-width="0.7"/><g fill="none" stroke="#333" stroke-width="1.1"><rect x="106.3" y="311.6" width="251.1" height="8.8"/><path d="M116,311.6 V320.4 M137.5,311.6 V320.4 M215.4,311.6 V320.4 M248.7,311.6 V320.4 M326.6,311.6 V320.4 M347.6,311.6 V320.4"/><path d="M182.5,320.4 V312.2 H205.6 V320.4 M182.5,315.7 H205.6 M186.4,315.7 V320.4 M201.2,315.7 V320.4"/><rect x="103.4" y="320.8" width="43.2" height="25.8"/><rect x="317.2" y="320.8" width="43.2" height="25.8"/><path d="M146.6,342.1 H317.2"/></g>
<polygon points="438.1,116.4 443.4,114.7 456.5,109.9 481,110.3 488.9,112.1 492.4,115.1 492.4,120.4 486.2,123 477.5,122.1 472.2,123.4 460,121.7 447.7,120.4" fill="#3f4146"/><polygon points="438.1,116.4 443.4,114.7 456.5,109.9 481,110.3 488.9,112.1 492.4,115.1 484.5,116.4 468.7,115.6 454.7,115.6 446.9,115.1" fill="#6a6c71"/><path d="M456,119 C460,117.5 466,117.5 470,119" stroke="#888" stroke-width="0.8" fill="none"/><rect x="437.2" y="118.4" width="7.5" height="5.6" rx="1.2" fill="#e8e2cc"/><rect x="477.5" y="120.8" width="8.3" height="7.4" rx="1.5" fill="#dad0b3"/><polygon points="405,133.5 423,125.5 427,125.5 429,127.5 443,127.5 448,127 451,129 452,131.5 457,132 466,132.5 470,131 472,133 467,135.5 468,141 466,147 454,150 444,154 431,154.5 418,151 406,146 402.5,139" fill="#47494d"/><polygon points="405,133.5 423,125.5 427,125.5 429,127.5 443,127.5 448,127 451,129 452,131.5 457,132 466,132.5 470,131 472,133 467,135.5 467.5,139 454,142 440,144.5 425,143.5 410,141 403,138" fill="#56585c"/><rect x="467" y="133" width="10" height="10" rx="2" fill="#efebe1"/><polygon points="504,121 548,125 561,126 560,131 548,135.5 530,135 515,134 506,130" fill="#3e4045"/><polygon points="502.6,120.3 517.3,115.7 534.3,116.9 553.5,118.6 563.7,124.8 561.4,127.5 545,125.5 534,127 520,125 508,123.5" fill="#7f8083"/><line x1="534" y1="117" x2="530" y2="126.5" stroke="#555" stroke-width="0.9"/><rect x="495.5" y="121" width="8.5" height="8.5" rx="1.5" fill="#e8e0c6"/><rect x="550" y="128.5" width="9.5" height="8.5" rx="1.5" fill="#e3dbc2"/><polygon points="472.4,148.4 473.8,162.1 490,167 519,172.5 534.3,166.3 537,162.1 552.2,160.8 549.4,151.8" fill="#54565a"/><polygon points="472.4,148.4 477.9,142.2 494.4,140.1 499.9,142.9 513.6,142.2 537,147.7 549.4,151.8 552.2,160.5 537,162 515,164.5 490,161 473.5,158" fill="#8b8b8c"/><line x1="515" y1="143.6" x2="500" y2="162.5" stroke="#5a5a5c" stroke-width="1"/><rect x="485.5" y="132" width="9.5" height="7" rx="2" fill="#e9e3cf"/><rect x="546" y="144" width="11" height="10" rx="2" fill="#e6dec6"/><circle cx="594" cy="134" r="5.6" fill="#e2dcc4"/><circle cx="656.5" cy="134" r="5.6" fill="#e2dcc4"/><circle cx="594" cy="150" r="5.6" fill="#e2dcc4"/><circle cx="656.5" cy="150" r="5.6" fill="#e2dcc4"/><path d="M598,97 C598,92 600,89.6 604,89.6 C612,90 618,91.8 625,91.8 C632,91.8 640,89.6 646,89.6 C650,89.6 651.4,92 651.4,96 L651.4,103.6 L660,104.5 L660.5,106 L660.5,124 L659.5,127 L659.5,134 L653,134 L653,127.5 L639,130 L630.5,132 L630.5,139.5 L619.5,139.5 L619.5,132 L617,132 L617,125 C616,123.8 614,123.8 613,125 L612.5,131 L608,130 L598,128 L597.5,134 L591,134 L591,127 L589,124 L589,106 L590,104.5 L598,103.6 Z" fill="#39393b"/><path d="M591,150 L597.5,150 L598,156 L618,152 L620,152 L620,144 L630,144 L630,152 L633,152 L634.5,159 L637,159 L638.5,154 L653,155 L653,150 L659.5,150 L659.5,157 L661,160 L661,180 L652,181.1 L652,192 C652,195 650,195.7 648.6,195.7 C640,195.7 632,194 625,194 C618,194 610,195.7 602.5,195.7 C599,195.7 598,193 598,190 L598,181.1 L588.4,180 L588.4,160.9 L591,157.5 Z" fill="#39393b"/><circle cx="594" cy="134" r="3.3" fill="#39393b"/><circle cx="594" cy="134" r="1.7" fill="#d8d8d8"/><circle cx="656.5" cy="134" r="3.3" fill="#39393b"/><circle cx="656.5" cy="134" r="1.7" fill="#d8d8d8"/><circle cx="594" cy="150" r="3.3" fill="#39393b"/><circle cx="594" cy="150" r="1.7" fill="#d8d8d8"/><circle cx="656.5" cy="150" r="3.3" fill="#39393b"/><circle cx="656.5" cy="150" r="1.7" fill="#d8d8d8"/><rect x="622" y="133" width="6" height="5" rx="1" fill="#fff"/><rect x="622" y="146" width="6" height="5" rx="1" fill="#fff"/><path d="M671,118 L740.4,118 L740,126 L735,128.5 L719,132 L712,131.5 L711.5,141 L700.5,141 L700.5,132.5 L695,131 L679,129.5 L672,126 Z" fill="#39393b"/><path d="M681.9,90.1 C690,91 698,93.5 705.5,93.5 C713,93.5 720,90.7 726.9,90.7 C730.5,90.7 731.9,93 731.9,96 L733.6,104.7 L740.4,106.4 L740.4,121.6 L735,124.5 L723.5,126.1 L719,123.5 L714,123.5 L712,125 L702.1,126.5 L685.2,126 L675,125 L671.2,122.7 L671.2,105.3 L679.6,102.5 L680,93 C680,91 681,90.1 681.9,90.1 Z" fill="#7b7b7b"/><path d="M714,124.5 L719,124.5 L719,128 C719,130.5 714,130.5 714,128 Z" fill="#fff"/><rect x="703.5" y="134" width="5.5" height="5" rx="1" fill="#fff"/><line x1="706" y1="93.5" x2="706" y2="127" stroke="#2e2e2e" stroke-width="1.1"/><path d="M671,157 L690,153 L700.5,152 L700.5,144 L711.5,144 L711.5,150 L735,156 L739.8,158.5 L739.8,164 L671,164 Z" fill="#39393b"/><path d="M669.5,159.7 L690.9,158 L694.8,160.3 L698.7,157 L704,156 L739.8,162 L739.8,178.9 L732.5,180 L732.5,191 C732.5,193 731,194 729,194 C720,193 712,191.8 704.4,191.8 C697,191.8 690,194 681.9,194 C679,194 677.4,193 677.4,191.2 L677.4,180 L669.5,178.9 Z" fill="#7b7b7b"/><path d="M693,152 L697,152 L697,157.5 C697,160 693,160 693,157.5 Z" fill="#fff"/><rect x="703.5" y="146" width="5.5" height="5" rx="1" fill="#fff"/><line x1="705" y1="157" x2="705" y2="193" stroke="#2e2e2e" stroke-width="1.1"/><circle cx="674" cy="134" r="6" fill="#d5c9b5"/><circle cx="736" cy="134.5" r="6" fill="#d8d0bc"/><circle cx="674" cy="149.5" r="6" fill="#e6e0bf"/><circle cx="736" cy="149.5" r="6" fill="#cdc6bb"/><rect x="415" y="295" width="142.5" height="19.2" fill="#404146"/><rect x="415" y="295" width="142.5" height="5" fill="#36373b"/><rect x="416" y="292.8" width="11.5" height="4" rx="1.5" fill="#3c3d41"/><rect x="545.5" y="294" width="10.5" height="4" rx="1.5" fill="#3c3d41"/><rect x="485.4" y="306.9" width="2.3" height="7.5" fill="#fff"/><defs><linearGradient id="blk" x1="0" x2="1" y1="0" y2="0"><stop offset="0" stop-color="#d6d2bc"/><stop offset="0.45" stop-color="#e8e6d2"/><stop offset="1" stop-color="#d2cdb6"/></linearGradient></defs><rect x="409.8" y="300" width="25" height="16.6" fill="url(#blk)"/><rect x="538.4" y="301.9" width="24.7" height="15.9" fill="url(#blk)"/>
<rect x="38.7" y="410.5" width="344" height="29.9" fill="#000"/><rect x="386.5" y="410.5" width="210.2" height="29.9" fill="#000"/><rect x="599.5" y="410.5" width="162.5" height="29.9" fill="#000"/><text transform="translate(49,430.2) scale(0.83,1)" text-anchor="start" font-size="16" font-weight="bold" font-style="normal" fill="#fff" stroke="#fff" stroke-width="0.12">Inner Brake Pads Specs</text><text transform="translate(221.5,430.2) scale(0.83,1)" text-anchor="start" font-size="16" font-weight="bold" font-style="normal" fill="#fff" stroke="#fff" stroke-width="0.12">Outer Brake Pads Specs</text><text transform="translate(491.8,430.2) scale(0.83,1)" text-anchor="middle" font-size="16" font-weight="bold" font-style="normal" fill="#fff" stroke="#fff" stroke-width="0.12">FMSI #</text><text transform="translate(681.2,430.2) scale(0.83,1)" text-anchor="middle" font-size="16" font-weight="bold" font-style="normal" fill="#fff" stroke="#fff" stroke-width="0.12">Related Parts</text><text transform="translate(157.8,453.2) scale(0.83,1)" text-anchor="end" font-size="12" font-weight="bold" font-style="normal" fill="#111" stroke="#111" stroke-width="0.12">Inner Pad Width:</text><text transform="translate(161.2,453.2) scale(0.83,1)" text-anchor="start" font-size="12" font-weight="bold" font-style="normal" fill="#111" stroke="#111" stroke-width="0.12">121.4</text><text transform="translate(157.8,469.1) scale(0.83,1)" text-anchor="end" font-size="12" font-weight="bold" font-style="normal" fill="#111" stroke="#111" stroke-width="0.12">Inner Pad Height:</text><text transform="translate(161.2,469.1) scale(0.83,1)" text-anchor="start" font-size="12" font-weight="bold" font-style="normal" fill="#111" stroke="#111" stroke-width="0.12">86</text><text transform="translate(157.8,485.0) scale(0.83,1)" text-anchor="end" font-size="12" font-weight="bold" font-style="normal" fill="#111" stroke="#111" stroke-width="0.12">Inner Pad Thk w/o Shim:</text><text transform="translate(161.2,485.0) scale(0.83,1)" text-anchor="start" font-size="12" font-weight="bold" font-style="normal" fill="#111" stroke="#111" stroke-width="0.12">16.1</text><text transform="translate(157.8,500.9) scale(0.83,1)" text-anchor="end" font-size="12" font-weight="bold" font-style="normal" fill="#111" stroke="#111" stroke-width="0.12">Sensor Wire Length:</text><text transform="translate(334,453.2) scale(0.83,1)" text-anchor="end" font-size="12" font-weight="bold" font-style="normal" fill="#111" stroke="#111" stroke-width="0.12">Outer Pad Width:</text><text transform="translate(338.1,453.2) scale(0.83,1)" text-anchor="start" font-size="12" font-weight="bold" font-style="normal" fill="#111" stroke="#111" stroke-width="0.12">121.4</text><text transform="translate(334,469.1) scale(0.83,1)" text-anchor="end" font-size="12" font-weight="bold" font-style="normal" fill="#111" stroke="#111" stroke-width="0.12">Outer Pad Height:</text><text transform="translate(338.1,469.1) scale(0.83,1)" text-anchor="start" font-size="12" font-weight="bold" font-style="normal" fill="#111" stroke="#111" stroke-width="0.12">86</text><text transform="translate(334,485.0) scale(0.83,1)" text-anchor="end" font-size="12" font-weight="bold" font-style="normal" fill="#111" stroke="#111" stroke-width="0.12">Outer Pad Thk w/o Shim:</text><text transform="translate(338.1,485.0) scale(0.83,1)" text-anchor="start" font-size="12" font-weight="bold" font-style="normal" fill="#111" stroke="#111" stroke-width="0.12">16.1</text><text transform="translate(391.8,453.0) scale(0.83,1)" text-anchor="start" font-size="12" font-weight="bold" font-style="normal" fill="#111" stroke="#111" stroke-width="0.12">FMSI:</text><text transform="translate(496.3,453.0) scale(0.83,1)" text-anchor="start" font-size="12" font-weight="bold" font-style="normal" fill="#111" stroke="#111" stroke-width="0.12">FMSI:</text><text transform="translate(391.8,468.8) scale(0.83,1)" text-anchor="start" font-size="12" font-weight="bold" font-style="normal" fill="#111" stroke="#111" stroke-width="0.12">FMSI:</text><text transform="translate(496.3,468.8) scale(0.83,1)" text-anchor="start" font-size="12" font-weight="bold" font-style="normal" fill="#111" stroke="#111" stroke-width="0.12">FMSI:</text><text transform="translate(391.8,484.6) scale(0.83,1)" text-anchor="start" font-size="12" font-weight="bold" font-style="normal" fill="#111" stroke="#111" stroke-width="0.12">FMSI:</text><text transform="translate(496.3,484.6) scale(0.83,1)" text-anchor="start" font-size="12" font-weight="bold" font-style="normal" fill="#111" stroke="#111" stroke-width="0.12">FMSI:</text><text transform="translate(391.8,500.4) scale(0.83,1)" text-anchor="start" font-size="12" font-weight="bold" font-style="normal" fill="#111" stroke="#111" stroke-width="0.12">FMSI:</text><text transform="translate(496.3,500.4) scale(0.83,1)" text-anchor="start" font-size="12" font-weight="bold" font-style="normal" fill="#111" stroke="#111" stroke-width="0.12">FMSI:</text><text transform="translate(391.8,516.2) scale(0.83,1)" text-anchor="start" font-size="12" font-weight="bold" font-style="normal" fill="#111" stroke="#111" stroke-width="0.12">FMSI:</text><text transform="translate(496.3,516.2) scale(0.83,1)" text-anchor="start" font-size="12" font-weight="bold" font-style="normal" fill="#111" stroke="#111" stroke-width="0.12">FMSI:</text><text transform="translate(391.8,532.0) scale(0.83,1)" text-anchor="start" font-size="12" font-weight="bold" font-style="normal" fill="#111" stroke="#111" stroke-width="0.12">FMSI:</text><text transform="translate(496.3,532.0) scale(0.83,1)" text-anchor="start" font-size="12" font-weight="bold" font-style="normal" fill="#111" stroke="#111" stroke-width="0.12">FMSI:</text><text transform="translate(391.8,547.8) scale(0.83,1)" text-anchor="start" font-size="12" font-weight="bold" font-style="normal" fill="#111" stroke="#111" stroke-width="0.12">FMSI:</text><text transform="translate(496.3,547.8) scale(0.83,1)" text-anchor="start" font-size="12" font-weight="bold" font-style="normal" fill="#111" stroke="#111" stroke-width="0.12">FMSI:</text><text transform="translate(423.3,453.0) scale(0.83,1)" text-anchor="start" font-size="12" font-weight="bold" font-style="normal" fill="#111" stroke="#111" stroke-width="0.12">D1135</text><text transform="translate(604.3,453.2) scale(0.815,1)" text-anchor="start" font-size="12" font-weight="bold" font-style="normal" fill="#111" stroke="#111" stroke-width="0.12">Hardware Kit #:</text><polygon points="67.8,557.6 57.2,576.6 78.8,576.6" fill="#fbf6f6" stroke="#b9302d" stroke-width="2.6" stroke-linejoin="round"/><rect x="67" y="563.6" width="2" height="7.4" fill="#111"/><rect x="67" y="572.2" width="2" height="2.1" fill="#111"/><text transform="translate(96.2,566.8) scale(0.96,1)" text-anchor="start" font-size="13" font-weight="bold" font-style="normal" fill="#111" stroke="#111" stroke-width="0.12">Note 1:</text><text transform="translate(96.2,585.2) scale(0.96,1)" text-anchor="start" font-size="13" font-weight="bold" font-style="normal" fill="#111" stroke="#111" stroke-width="0.12">Note 2:</text>
</svg>
</body></html>
